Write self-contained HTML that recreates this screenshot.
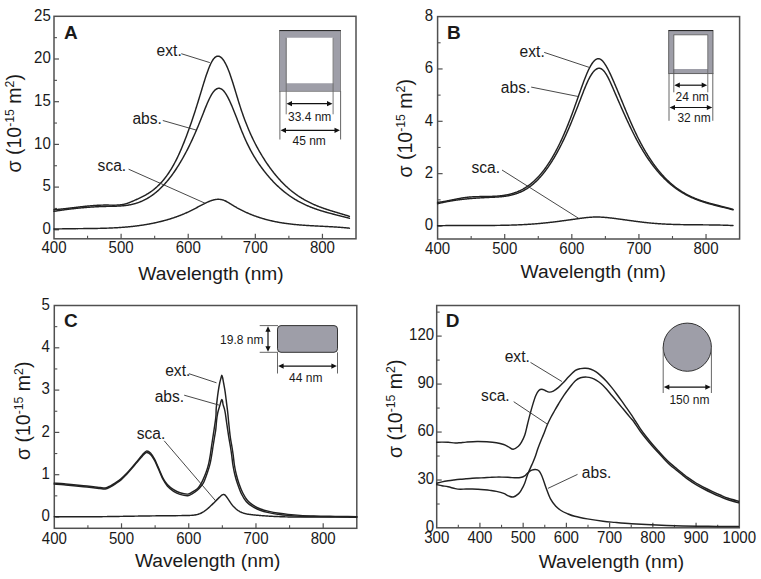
<!DOCTYPE html>
<html><head><meta charset="utf-8"><style>
html,body{margin:0;padding:0;background:#fff;}
svg{display:block;}
text{font-family:"Liberation Sans", sans-serif;fill:#1a1a1a;}
</style></head><body>
<svg width="761" height="579" viewBox="0 0 761 579">
<rect width="761" height="579" fill="#fff"/>
<rect x="54" y="16.3" width="302" height="222.5" fill="none" stroke="#505050" stroke-width="1.5"/>
<line x1="121.11" y1="238.8" x2="121.11" y2="233.8" stroke="#505050" stroke-width="1.2"/>
<line x1="188.22" y1="238.8" x2="188.22" y2="233.8" stroke="#505050" stroke-width="1.2"/>
<line x1="255.33" y1="238.8" x2="255.33" y2="233.8" stroke="#505050" stroke-width="1.2"/>
<line x1="322.44" y1="238.8" x2="322.44" y2="233.8" stroke="#505050" stroke-width="1.2"/>
<line x1="87.56" y1="238.8" x2="87.56" y2="235.8" stroke="#505050" stroke-width="1.1"/>
<line x1="154.67" y1="238.8" x2="154.67" y2="235.8" stroke="#505050" stroke-width="1.1"/>
<line x1="221.78" y1="238.8" x2="221.78" y2="235.8" stroke="#505050" stroke-width="1.1"/>
<line x1="288.89" y1="238.8" x2="288.89" y2="235.8" stroke="#505050" stroke-width="1.1"/>
<text transform="translate(54.00,253.3) scale(0.94,1)" text-anchor="middle" font-size="16">400</text>
<text transform="translate(121.11,253.3) scale(0.94,1)" text-anchor="middle" font-size="16">500</text>
<text transform="translate(188.22,253.3) scale(0.94,1)" text-anchor="middle" font-size="16">600</text>
<text transform="translate(255.33,253.3) scale(0.94,1)" text-anchor="middle" font-size="16">700</text>
<text transform="translate(322.44,253.3) scale(0.94,1)" text-anchor="middle" font-size="16">800</text>
<line x1="54" y1="229.80" x2="59" y2="229.80" stroke="#505050" stroke-width="1.2"/>
<line x1="54" y1="187.10" x2="59" y2="187.10" stroke="#505050" stroke-width="1.2"/>
<line x1="54" y1="144.40" x2="59" y2="144.40" stroke="#505050" stroke-width="1.2"/>
<line x1="54" y1="101.70" x2="59" y2="101.70" stroke="#505050" stroke-width="1.2"/>
<line x1="54" y1="59.00" x2="59" y2="59.00" stroke="#505050" stroke-width="1.2"/>
<line x1="54" y1="208.45" x2="57" y2="208.45" stroke="#505050" stroke-width="1.1"/>
<line x1="54" y1="165.75" x2="57" y2="165.75" stroke="#505050" stroke-width="1.1"/>
<line x1="54" y1="123.05" x2="57" y2="123.05" stroke="#505050" stroke-width="1.1"/>
<line x1="54" y1="80.35" x2="57" y2="80.35" stroke="#505050" stroke-width="1.1"/>
<line x1="54" y1="37.65" x2="57" y2="37.65" stroke="#505050" stroke-width="1.1"/>
<text transform="translate(50.80,234.10) scale(0.94,1)" text-anchor="end" font-size="16">0</text>
<text transform="translate(50.80,191.40) scale(0.94,1)" text-anchor="end" font-size="16">5</text>
<text transform="translate(50.80,148.70) scale(0.94,1)" text-anchor="end" font-size="16">10</text>
<text transform="translate(50.80,106.00) scale(0.94,1)" text-anchor="end" font-size="16">15</text>
<text transform="translate(50.80,63.30) scale(0.94,1)" text-anchor="end" font-size="16">20</text>
<text transform="translate(50.80,20.60) scale(0.94,1)" text-anchor="end" font-size="16">25</text>
<text x="138.3" y="280.4" font-size="19.2">Wavelength (nm)</text>
<text transform="translate(21.1,172.5) rotate(-90)" font-size="19.5">&#963; (10<tspan dy="-7" font-size="12.3">-15</tspan><tspan dy="7"> m</tspan><tspan dy="-7" font-size="12.3">2</tspan><tspan dy="7">)</tspan></text>
<text x="64" y="39.3" font-size="19" font-weight="bold">A</text>
<path d="M54.00 209.72 L54.50 209.68 L55.00 209.64 L55.50 209.60 L56.00 209.56 L56.50 209.52 L57.00 209.47 L57.50 209.43 L58.00 209.38 L58.50 209.34 L59.00 209.29 L59.50 209.24 L60.00 209.19 L60.50 209.14 L61.00 209.09 L61.50 209.04 L62.00 208.99 L62.50 208.93 L63.00 208.88 L63.50 208.83 L64.00 208.77 L64.50 208.72 L65.00 208.66 L65.50 208.61 L66.00 208.55 L66.50 208.49 L67.00 208.43 L67.50 208.38 L68.00 208.32 L68.50 208.26 L69.00 208.20 L69.50 208.14 L70.00 208.08 L70.50 208.02 L71.00 207.96 L71.50 207.90 L72.00 207.84 L72.50 207.78 L73.00 207.72 L73.50 207.66 L74.00 207.60 L74.50 207.54 L75.00 207.48 L75.50 207.42 L76.00 207.36 L76.50 207.30 L77.00 207.25 L77.50 207.19 L78.00 207.13 L78.50 207.07 L79.00 207.01 L79.50 206.95 L80.00 206.89 L80.50 206.84 L81.00 206.78 L81.50 206.72 L82.00 206.67 L82.50 206.61 L83.00 206.56 L83.50 206.50 L84.00 206.45 L84.50 206.39 L85.00 206.34 L85.50 206.29 L86.00 206.24 L86.50 206.19 L87.00 206.14 L87.50 206.09 L88.00 206.04 L88.50 205.99 L89.00 205.94 L89.50 205.90 L90.00 205.85 L90.50 205.81 L91.00 205.77 L91.50 205.72 L92.00 205.68 L92.50 205.64 L93.00 205.60 L93.50 205.57 L94.00 205.53 L94.50 205.49 L95.00 205.46 L95.50 205.43 L96.00 205.39 L96.50 205.36 L97.00 205.34 L97.50 205.31 L98.00 205.28 L98.50 205.26 L99.00 205.23 L99.50 205.21 L100.00 205.19 L100.50 205.17 L101.00 205.15 L101.50 205.14 L102.00 205.12 L102.50 205.11 L103.00 205.10 L103.50 205.09 L104.00 205.08 L104.50 205.08 L105.00 205.07 L105.50 205.07 L106.00 205.07 L106.50 205.07 L107.00 205.07 L107.50 205.08 L108.00 205.08 L108.50 205.09 L109.00 205.10 L109.50 205.11 L110.00 205.12 L110.50 205.13 L111.00 205.13 L111.50 205.14 L112.00 205.15 L112.50 205.15 L113.00 205.16 L113.50 205.16 L114.00 205.16 L114.50 205.16 L115.00 205.15 L115.50 205.14 L116.00 205.13 L116.50 205.11 L117.00 205.09 L117.50 205.07 L118.00 205.04 L118.50 205.01 L119.00 204.97 L119.50 204.92 L120.00 204.87 L120.50 204.82 L121.00 204.76 L121.50 204.69 L122.00 204.61 L122.50 204.53 L123.00 204.44 L123.50 204.34 L124.00 204.23 L124.50 204.12 L125.00 203.99 L125.50 203.86 L126.00 203.72 L126.50 203.57 L127.00 203.41 L127.50 203.24 L128.00 203.07 L128.50 202.89 L129.00 202.70 L129.50 202.51 L130.00 202.31 L130.50 202.11 L131.00 201.90 L131.50 201.69 L132.00 201.48 L132.50 201.26 L133.00 201.05 L133.50 200.83 L134.00 200.61 L134.50 200.39 L135.00 200.17 L135.50 199.95 L136.00 199.73 L136.50 199.50 L137.00 199.28 L137.50 199.05 L138.00 198.83 L138.50 198.60 L139.00 198.36 L139.50 198.13 L140.00 197.89 L140.50 197.65 L141.00 197.41 L141.50 197.16 L142.00 196.91 L142.50 196.66 L143.00 196.40 L143.50 196.14 L144.00 195.88 L144.50 195.61 L145.00 195.33 L145.50 195.05 L146.00 194.77 L146.50 194.48 L147.00 194.18 L147.50 193.88 L148.00 193.57 L148.50 193.26 L149.00 192.94 L149.50 192.61 L150.00 192.28 L150.50 191.94 L151.00 191.59 L151.50 191.24 L152.00 190.87 L152.50 190.50 L153.00 190.12 L153.50 189.74 L154.00 189.34 L154.50 188.94 L155.00 188.52 L155.50 188.10 L156.00 187.67 L156.50 187.23 L157.00 186.78 L157.50 186.32 L158.00 185.84 L158.50 185.36 L159.00 184.87 L159.50 184.37 L160.00 183.85 L160.50 183.33 L161.00 182.79 L161.50 182.25 L162.00 181.69 L162.50 181.11 L163.00 180.53 L163.50 179.93 L164.00 179.32 L164.50 178.70 L165.00 178.07 L165.50 177.42 L166.00 176.75 L166.50 176.08 L167.00 175.39 L167.50 174.68 L168.00 173.97 L168.50 173.23 L169.00 172.49 L169.50 171.72 L170.00 170.94 L170.50 170.15 L171.00 169.34 L171.50 168.52 L172.00 167.68 L172.50 166.82 L173.00 165.95 L173.50 165.06 L174.00 164.15 L174.50 163.23 L175.00 162.28 L175.50 161.33 L176.00 160.35 L176.50 159.35 L177.00 158.34 L177.50 157.31 L178.00 156.26 L178.50 155.20 L179.00 154.12 L179.50 153.02 L180.00 151.90 L180.50 150.76 L181.00 149.61 L181.50 148.45 L182.00 147.26 L182.50 146.07 L183.00 144.85 L183.50 143.62 L184.00 142.37 L184.50 141.11 L185.00 139.84 L185.50 138.55 L186.00 137.24 L186.50 135.92 L187.00 134.58 L187.50 133.23 L188.00 131.87 L188.50 130.49 L189.00 129.10 L189.50 127.70 L190.00 126.28 L190.50 124.85 L191.00 123.40 L191.50 121.95 L192.00 120.48 L192.50 119.00 L193.00 117.50 L193.50 116.00 L194.00 114.48 L194.50 112.95 L195.00 111.41 L195.50 109.86 L196.00 108.29 L196.50 106.72 L197.00 105.13 L197.50 103.54 L198.00 101.93 L198.50 100.31 L199.00 98.69 L199.50 97.05 L200.00 95.41 L200.50 93.75 L201.00 92.10 L201.50 90.44 L202.00 88.79 L202.50 87.15 L203.00 85.51 L203.50 83.89 L204.00 82.28 L204.50 80.69 L205.00 79.12 L205.50 77.58 L206.00 76.07 L206.50 74.59 L207.00 73.15 L207.50 71.74 L208.00 70.38 L208.50 69.06 L209.00 67.79 L209.50 66.57 L210.00 65.40 L210.50 64.29 L211.00 63.24 L211.50 62.26 L212.00 61.34 L212.50 60.50 L213.00 59.72 L213.50 59.03 L214.00 58.41 L214.50 57.87 L215.00 57.40 L215.50 57.01 L216.00 56.70 L216.50 56.45 L217.00 56.28 L217.50 56.18 L218.00 56.15 L218.50 56.19 L219.00 56.30 L219.50 56.48 L220.00 56.72 L220.50 57.03 L221.00 57.40 L221.50 57.84 L222.00 58.34 L222.50 58.91 L223.00 59.53 L223.50 60.22 L224.00 60.97 L224.50 61.77 L225.00 62.64 L225.50 63.56 L226.00 64.53 L226.50 65.57 L227.00 66.65 L227.50 67.79 L228.00 68.99 L228.50 70.23 L229.00 71.53 L229.50 72.87 L230.00 74.26 L230.50 75.68 L231.00 77.15 L231.50 78.65 L232.00 80.18 L232.50 81.73 L233.00 83.32 L233.50 84.92 L234.00 86.54 L234.50 88.17 L235.00 89.82 L235.50 91.47 L236.00 93.12 L236.50 94.78 L237.00 96.43 L237.50 98.08 L238.00 99.72 L238.50 101.34 L239.00 102.95 L239.50 104.54 L240.00 106.10 L240.50 107.65 L241.00 109.16 L241.50 110.66 L242.00 112.13 L242.50 113.57 L243.00 114.99 L243.50 116.40 L244.00 117.77 L244.50 119.13 L245.00 120.47 L245.50 121.78 L246.00 123.07 L246.50 124.35 L247.00 125.60 L247.50 126.83 L248.00 128.05 L248.50 129.24 L249.00 130.42 L249.50 131.58 L250.00 132.72 L250.50 133.84 L251.00 134.95 L251.50 136.04 L252.00 137.11 L252.50 138.17 L253.00 139.22 L253.50 140.24 L254.00 141.26 L254.50 142.25 L255.00 143.24 L255.50 144.21 L256.00 145.17 L256.50 146.11 L257.00 147.04 L257.50 147.96 L258.00 148.87 L258.50 149.76 L259.00 150.65 L259.50 151.52 L260.00 152.39 L260.50 153.24 L261.00 154.09 L261.50 154.92 L262.00 155.75 L262.50 156.56 L263.00 157.37 L263.50 158.17 L264.00 158.97 L264.50 159.75 L265.00 160.52 L265.50 161.29 L266.00 162.05 L266.50 162.80 L267.00 163.54 L267.50 164.27 L268.00 165.00 L268.50 165.71 L269.00 166.42 L269.50 167.12 L270.00 167.82 L270.50 168.50 L271.00 169.18 L271.50 169.85 L272.00 170.51 L272.50 171.16 L273.00 171.81 L273.50 172.45 L274.00 173.08 L274.50 173.71 L275.00 174.32 L275.50 174.93 L276.00 175.54 L276.50 176.13 L277.00 176.72 L277.50 177.30 L278.00 177.88 L278.50 178.44 L279.00 179.01 L279.50 179.56 L280.00 180.11 L280.50 180.65 L281.00 181.18 L281.50 181.71 L282.00 182.23 L282.50 182.74 L283.00 183.25 L283.50 183.75 L284.00 184.25 L284.50 184.73 L285.00 185.22 L285.50 185.69 L286.00 186.16 L286.50 186.63 L287.00 187.09 L287.50 187.54 L288.00 187.99 L288.50 188.43 L289.00 188.86 L289.50 189.29 L290.00 189.72 L290.50 190.13 L291.00 190.55 L291.50 190.95 L292.00 191.35 L292.50 191.75 L293.00 192.14 L293.50 192.53 L294.00 192.91 L294.50 193.29 L295.00 193.66 L295.50 194.02 L296.00 194.38 L296.50 194.74 L297.00 195.09 L297.50 195.43 L298.00 195.78 L298.50 196.11 L299.00 196.45 L299.50 196.77 L300.00 197.10 L300.50 197.42 L301.00 197.73 L301.50 198.04 L302.00 198.35 L302.50 198.65 L303.00 198.94 L303.50 199.24 L304.00 199.53 L304.50 199.81 L305.00 200.09 L305.50 200.37 L306.00 200.65 L306.50 200.92 L307.00 201.18 L307.50 201.44 L308.00 201.70 L308.50 201.96 L309.00 202.21 L309.50 202.46 L310.00 202.71 L310.50 202.95 L311.00 203.19 L311.50 203.42 L312.00 203.65 L312.50 203.88 L313.00 204.11 L313.50 204.33 L314.00 204.55 L314.50 204.77 L315.00 204.99 L315.50 205.20 L316.00 205.41 L316.50 205.62 L317.00 205.82 L317.50 206.02 L318.00 206.22 L318.50 206.42 L319.00 206.61 L319.50 206.81 L320.00 207.00 L320.50 207.18 L321.00 207.37 L321.50 207.55 L322.00 207.74 L322.50 207.92 L323.00 208.09 L323.50 208.27 L324.00 208.45 L324.50 208.62 L325.00 208.79 L325.50 208.96 L326.00 209.13 L326.50 209.29 L327.00 209.46 L327.50 209.62 L328.00 209.79 L328.50 209.95 L329.00 210.11 L329.50 210.27 L330.00 210.42 L330.50 210.58 L331.00 210.74 L331.50 210.89 L332.00 211.05 L332.50 211.20 L333.00 211.35 L333.50 211.50 L334.00 211.66 L334.50 211.81 L335.00 211.96 L335.50 212.11 L336.00 212.26 L336.50 212.40 L337.00 212.55 L337.50 212.70 L338.00 212.85 L338.50 213.00 L339.00 213.15 L339.50 213.30 L340.00 213.44 L340.50 213.59 L341.00 213.74 L341.50 213.89 L342.00 214.04 L342.50 214.19 L343.00 214.34 L343.50 214.49 L344.00 214.64 L344.50 214.79 L345.00 214.94 L345.50 215.09 L346.00 215.25 L346.50 215.40 L347.00 215.56 L347.50 215.71 L348.00 215.87 L348.50 216.03 L349.00 216.19 L349.40 216.32" fill="none" stroke="#222" stroke-width="1.45" stroke-linejoin="round" stroke-linecap="round"/>
<path d="M54.00 211.34 L54.50 211.26 L55.00 211.18 L55.50 211.10 L56.00 211.02 L56.50 210.94 L57.00 210.87 L57.50 210.79 L58.00 210.72 L58.50 210.64 L59.00 210.57 L59.50 210.49 L60.00 210.42 L60.50 210.35 L61.00 210.27 L61.50 210.20 L62.00 210.13 L62.50 210.06 L63.00 209.99 L63.50 209.92 L64.00 209.85 L64.50 209.78 L65.00 209.72 L65.50 209.65 L66.00 209.58 L66.50 209.52 L67.00 209.45 L67.50 209.39 L68.00 209.33 L68.50 209.26 L69.00 209.20 L69.50 209.14 L70.00 209.08 L70.50 209.02 L71.00 208.96 L71.50 208.90 L72.00 208.84 L72.50 208.78 L73.00 208.73 L73.50 208.67 L74.00 208.61 L74.50 208.56 L75.00 208.50 L75.50 208.45 L76.00 208.40 L76.50 208.34 L77.00 208.29 L77.50 208.24 L78.00 208.19 L78.50 208.14 L79.00 208.09 L79.50 208.04 L80.00 207.99 L80.50 207.94 L81.00 207.90 L81.50 207.85 L82.00 207.81 L82.50 207.76 L83.00 207.72 L83.50 207.67 L84.00 207.63 L84.50 207.59 L85.00 207.55 L85.50 207.51 L86.00 207.46 L86.50 207.43 L87.00 207.39 L87.50 207.35 L88.00 207.31 L88.50 207.27 L89.00 207.24 L89.50 207.20 L90.00 207.17 L90.50 207.13 L91.00 207.10 L91.50 207.07 L92.00 207.03 L92.50 207.00 L93.00 206.97 L93.50 206.94 L94.00 206.91 L94.50 206.88 L95.00 206.85 L95.50 206.83 L96.00 206.80 L96.50 206.77 L97.00 206.75 L97.50 206.72 L98.00 206.70 L98.50 206.68 L99.00 206.65 L99.50 206.63 L100.00 206.61 L100.50 206.59 L101.00 206.57 L101.50 206.55 L102.00 206.53 L102.50 206.51 L103.00 206.50 L103.50 206.48 L104.00 206.47 L104.50 206.45 L105.00 206.44 L105.50 206.42 L106.00 206.41 L106.50 206.40 L107.00 206.39 L107.50 206.38 L108.00 206.37 L108.50 206.36 L109.00 206.35 L109.50 206.34 L110.00 206.33 L110.50 206.32 L111.00 206.31 L111.50 206.30 L112.00 206.29 L112.50 206.28 L113.00 206.27 L113.50 206.26 L114.00 206.24 L114.50 206.23 L115.00 206.22 L115.50 206.20 L116.00 206.19 L116.50 206.17 L117.00 206.15 L117.50 206.13 L118.00 206.11 L118.50 206.08 L119.00 206.06 L119.50 206.03 L120.00 206.00 L120.50 205.97 L121.00 205.93 L121.50 205.90 L122.00 205.86 L122.50 205.82 L123.00 205.77 L123.50 205.73 L124.00 205.68 L124.50 205.62 L125.00 205.57 L125.50 205.51 L126.00 205.45 L126.50 205.38 L127.00 205.31 L127.50 205.24 L128.00 205.16 L128.50 205.08 L129.00 205.00 L129.50 204.91 L130.00 204.81 L130.50 204.72 L131.00 204.62 L131.50 204.51 L132.00 204.40 L132.50 204.29 L133.00 204.17 L133.50 204.04 L134.00 203.91 L134.50 203.78 L135.00 203.64 L135.50 203.49 L136.00 203.34 L136.50 203.18 L137.00 203.02 L137.50 202.86 L138.00 202.68 L138.50 202.51 L139.00 202.32 L139.50 202.13 L140.00 201.94 L140.50 201.74 L141.00 201.53 L141.50 201.32 L142.00 201.10 L142.50 200.88 L143.00 200.65 L143.50 200.41 L144.00 200.17 L144.50 199.92 L145.00 199.66 L145.50 199.40 L146.00 199.13 L146.50 198.86 L147.00 198.58 L147.50 198.29 L148.00 198.00 L148.50 197.70 L149.00 197.39 L149.50 197.07 L150.00 196.75 L150.50 196.42 L151.00 196.09 L151.50 195.75 L152.00 195.40 L152.50 195.04 L153.00 194.68 L153.50 194.31 L154.00 193.93 L154.50 193.55 L155.00 193.15 L155.50 192.75 L156.00 192.35 L156.50 191.93 L157.00 191.51 L157.50 191.08 L158.00 190.64 L158.50 190.19 L159.00 189.74 L159.50 189.28 L160.00 188.81 L160.50 188.33 L161.00 187.84 L161.50 187.35 L162.00 186.85 L162.50 186.34 L163.00 185.82 L163.50 185.29 L164.00 184.76 L164.50 184.21 L165.00 183.66 L165.50 183.10 L166.00 182.53 L166.50 181.95 L167.00 181.37 L167.50 180.77 L168.00 180.17 L168.50 179.55 L169.00 178.93 L169.50 178.30 L170.00 177.66 L170.50 177.01 L171.00 176.35 L171.50 175.69 L172.00 175.01 L172.50 174.32 L173.00 173.63 L173.50 172.92 L174.00 172.21 L174.50 171.49 L175.00 170.75 L175.50 170.01 L176.00 169.26 L176.50 168.50 L177.00 167.73 L177.50 166.95 L178.00 166.16 L178.50 165.36 L179.00 164.56 L179.50 163.74 L180.00 162.91 L180.50 162.07 L181.00 161.23 L181.50 160.37 L182.00 159.50 L182.50 158.63 L183.00 157.74 L183.50 156.85 L184.00 155.94 L184.50 155.02 L185.00 154.10 L185.50 153.16 L186.00 152.22 L186.50 151.26 L187.00 150.30 L187.50 149.32 L188.00 148.33 L188.50 147.34 L189.00 146.33 L189.50 145.31 L190.00 144.29 L190.50 143.25 L191.00 142.20 L191.50 141.14 L192.00 140.07 L192.50 139.00 L193.00 137.91 L193.50 136.81 L194.00 135.70 L194.50 134.57 L195.00 133.44 L195.50 132.30 L196.00 131.15 L196.50 129.98 L197.00 128.81 L197.50 127.63 L198.00 126.43 L198.50 125.22 L199.00 124.01 L199.50 122.78 L200.00 121.54 L200.50 120.29 L201.00 119.03 L201.50 117.76 L202.00 116.48 L202.50 115.20 L203.00 113.92 L203.50 112.64 L204.00 111.37 L204.50 110.11 L205.00 108.85 L205.50 107.61 L206.00 106.38 L206.50 105.18 L207.00 103.99 L207.50 102.83 L208.00 101.69 L208.50 100.59 L209.00 99.51 L209.50 98.47 L210.00 97.47 L210.50 96.51 L211.00 95.59 L211.50 94.72 L212.00 93.89 L212.50 93.12 L213.00 92.40 L213.50 91.74 L214.00 91.14 L214.50 90.59 L215.00 90.10 L215.50 89.67 L216.00 89.30 L216.50 88.98 L217.00 88.73 L217.50 88.53 L218.00 88.39 L218.50 88.31 L219.00 88.29 L219.50 88.33 L220.00 88.42 L220.50 88.58 L221.00 88.79 L221.50 89.07 L222.00 89.40 L222.50 89.79 L223.00 90.24 L223.50 90.75 L224.00 91.32 L224.50 91.94 L225.00 92.61 L225.50 93.33 L226.00 94.10 L226.50 94.92 L227.00 95.78 L227.50 96.68 L228.00 97.62 L228.50 98.60 L229.00 99.61 L229.50 100.65 L230.00 101.73 L230.50 102.83 L231.00 103.97 L231.50 105.12 L232.00 106.30 L232.50 107.50 L233.00 108.71 L233.50 109.94 L234.00 111.19 L234.50 112.45 L235.00 113.72 L235.50 114.99 L236.00 116.28 L236.50 117.57 L237.00 118.86 L237.50 120.16 L238.00 121.46 L238.50 122.75 L239.00 124.05 L239.50 125.33 L240.00 126.62 L240.50 127.89 L241.00 129.16 L241.50 130.41 L242.00 131.65 L242.50 132.88 L243.00 134.09 L243.50 135.28 L244.00 136.46 L244.50 137.61 L245.00 138.75 L245.50 139.86 L246.00 140.96 L246.50 142.04 L247.00 143.10 L247.50 144.14 L248.00 145.17 L248.50 146.18 L249.00 147.17 L249.50 148.15 L250.00 149.11 L250.50 150.05 L251.00 150.98 L251.50 151.90 L252.00 152.80 L252.50 153.68 L253.00 154.55 L253.50 155.41 L254.00 156.26 L254.50 157.09 L255.00 157.91 L255.50 158.71 L256.00 159.51 L256.50 160.29 L257.00 161.06 L257.50 161.82 L258.00 162.57 L258.50 163.31 L259.00 164.04 L259.50 164.76 L260.00 165.47 L260.50 166.18 L261.00 166.87 L261.50 167.55 L262.00 168.23 L262.50 168.90 L263.00 169.56 L263.50 170.22 L264.00 170.86 L264.50 171.50 L265.00 172.14 L265.50 172.76 L266.00 173.38 L266.50 174.00 L267.00 174.60 L267.50 175.20 L268.00 175.80 L268.50 176.38 L269.00 176.97 L269.50 177.54 L270.00 178.11 L270.50 178.67 L271.00 179.22 L271.50 179.77 L272.00 180.31 L272.50 180.85 L273.00 181.38 L273.50 181.90 L274.00 182.42 L274.50 182.93 L275.00 183.44 L275.50 183.94 L276.00 184.43 L276.50 184.92 L277.00 185.40 L277.50 185.88 L278.00 186.35 L278.50 186.82 L279.00 187.28 L279.50 187.73 L280.00 188.18 L280.50 188.62 L281.00 189.06 L281.50 189.49 L282.00 189.92 L282.50 190.34 L283.00 190.76 L283.50 191.17 L284.00 191.58 L284.50 191.98 L285.00 192.38 L285.50 192.77 L286.00 193.15 L286.50 193.54 L287.00 193.91 L287.50 194.28 L288.00 194.65 L288.50 195.01 L289.00 195.37 L289.50 195.73 L290.00 196.07 L290.50 196.42 L291.00 196.76 L291.50 197.09 L292.00 197.42 L292.50 197.75 L293.00 198.07 L293.50 198.39 L294.00 198.71 L294.50 199.02 L295.00 199.32 L295.50 199.62 L296.00 199.92 L296.50 200.21 L297.00 200.50 L297.50 200.79 L298.00 201.07 L298.50 201.35 L299.00 201.62 L299.50 201.89 L300.00 202.16 L300.50 202.42 L301.00 202.68 L301.50 202.94 L302.00 203.19 L302.50 203.44 L303.00 203.69 L303.50 203.93 L304.00 204.17 L304.50 204.41 L305.00 204.64 L305.50 204.87 L306.00 205.10 L306.50 205.32 L307.00 205.54 L307.50 205.76 L308.00 205.98 L308.50 206.19 L309.00 206.40 L309.50 206.61 L310.00 206.81 L310.50 207.01 L311.00 207.21 L311.50 207.41 L312.00 207.60 L312.50 207.79 L313.00 207.98 L313.50 208.17 L314.00 208.35 L314.50 208.53 L315.00 208.71 L315.50 208.89 L316.00 209.06 L316.50 209.24 L317.00 209.41 L317.50 209.58 L318.00 209.74 L318.50 209.91 L319.00 210.07 L319.50 210.23 L320.00 210.39 L320.50 210.55 L321.00 210.71 L321.50 210.86 L322.00 211.01 L322.50 211.17 L323.00 211.31 L323.50 211.46 L324.00 211.61 L324.50 211.76 L325.00 211.90 L325.50 212.04 L326.00 212.18 L326.50 212.32 L327.00 212.46 L327.50 212.60 L328.00 212.74 L328.50 212.88 L329.00 213.01 L329.50 213.15 L330.00 213.28 L330.50 213.41 L331.00 213.54 L331.50 213.67 L332.00 213.80 L332.50 213.93 L333.00 214.06 L333.50 214.19 L334.00 214.32 L334.50 214.45 L335.00 214.58 L335.50 214.70 L336.00 214.83 L336.50 214.96 L337.00 215.08 L337.50 215.21 L338.00 215.33 L338.50 215.46 L339.00 215.59 L339.50 215.71 L340.00 215.84 L340.50 215.96 L341.00 216.09 L341.50 216.22 L342.00 216.34 L342.50 216.47 L343.00 216.60 L343.50 216.73 L344.00 216.85 L344.50 216.98 L345.00 217.11 L345.50 217.24 L346.00 217.37 L346.50 217.50 L347.00 217.63 L347.50 217.77 L348.00 217.90 L348.50 218.03 L349.00 218.17 L349.40 218.28" fill="none" stroke="#222" stroke-width="1.45" stroke-linejoin="round" stroke-linecap="round"/>
<path d="M54.00 229.06 L54.50 229.04 L55.00 229.02 L55.50 229.01 L56.00 228.99 L56.50 228.98 L57.00 228.97 L57.50 228.95 L58.00 228.94 L58.50 228.93 L59.00 228.91 L59.50 228.90 L60.00 228.89 L60.50 228.88 L61.00 228.87 L61.50 228.86 L62.00 228.85 L62.50 228.84 L63.00 228.83 L63.50 228.82 L64.00 228.81 L64.50 228.80 L65.00 228.79 L65.50 228.78 L66.00 228.78 L66.50 228.77 L67.00 228.76 L67.50 228.75 L68.00 228.75 L68.50 228.74 L69.00 228.73 L69.50 228.73 L70.00 228.72 L70.50 228.71 L71.00 228.71 L71.50 228.70 L72.00 228.70 L72.50 228.69 L73.00 228.69 L73.50 228.68 L74.00 228.68 L74.50 228.67 L75.00 228.67 L75.50 228.66 L76.00 228.66 L76.50 228.65 L77.00 228.65 L77.50 228.65 L78.00 228.64 L78.50 228.64 L79.00 228.63 L79.50 228.63 L80.00 228.62 L80.50 228.62 L81.00 228.62 L81.50 228.61 L82.00 228.61 L82.50 228.60 L83.00 228.60 L83.50 228.59 L84.00 228.59 L84.50 228.58 L85.00 228.58 L85.50 228.58 L86.00 228.57 L86.50 228.57 L87.00 228.56 L87.50 228.55 L88.00 228.55 L88.50 228.54 L89.00 228.54 L89.50 228.53 L90.00 228.53 L90.50 228.52 L91.00 228.51 L91.50 228.51 L92.00 228.50 L92.50 228.49 L93.00 228.49 L93.50 228.48 L94.00 228.47 L94.50 228.46 L95.00 228.45 L95.50 228.45 L96.00 228.44 L96.50 228.43 L97.00 228.42 L97.50 228.41 L98.00 228.40 L98.50 228.39 L99.00 228.38 L99.50 228.37 L100.00 228.36 L100.50 228.34 L101.00 228.33 L101.50 228.32 L102.00 228.31 L102.50 228.29 L103.00 228.28 L103.50 228.26 L104.00 228.25 L104.50 228.24 L105.00 228.22 L105.50 228.20 L106.00 228.19 L106.50 228.17 L107.00 228.15 L107.50 228.13 L108.00 228.12 L108.50 228.10 L109.00 228.08 L109.50 228.06 L110.00 228.04 L110.50 228.02 L111.00 227.99 L111.50 227.97 L112.00 227.95 L112.50 227.93 L113.00 227.90 L113.50 227.88 L114.00 227.85 L114.50 227.83 L115.00 227.80 L115.50 227.77 L116.00 227.75 L116.50 227.72 L117.00 227.69 L117.50 227.66 L118.00 227.63 L118.50 227.60 L119.00 227.57 L119.50 227.53 L120.00 227.50 L120.50 227.47 L121.00 227.43 L121.50 227.40 L122.00 227.36 L122.50 227.32 L123.00 227.28 L123.50 227.25 L124.00 227.21 L124.50 227.17 L125.00 227.13 L125.50 227.08 L126.00 227.04 L126.50 227.00 L127.00 226.95 L127.50 226.91 L128.00 226.86 L128.50 226.81 L129.00 226.77 L129.50 226.72 L130.00 226.67 L130.50 226.62 L131.00 226.57 L131.50 226.51 L132.00 226.46 L132.50 226.41 L133.00 226.35 L133.50 226.29 L134.00 226.24 L134.50 226.18 L135.00 226.12 L135.50 226.06 L136.00 226.00 L136.50 225.94 L137.00 225.87 L137.50 225.81 L138.00 225.74 L138.50 225.68 L139.00 225.61 L139.50 225.54 L140.00 225.47 L140.50 225.40 L141.00 225.33 L141.50 225.25 L142.00 225.18 L142.50 225.11 L143.00 225.03 L143.50 224.95 L144.00 224.87 L144.50 224.79 L145.00 224.71 L145.50 224.63 L146.00 224.55 L146.50 224.46 L147.00 224.37 L147.50 224.29 L148.00 224.20 L148.50 224.11 L149.00 224.02 L149.50 223.93 L150.00 223.83 L150.50 223.74 L151.00 223.64 L151.50 223.54 L152.00 223.45 L152.50 223.35 L153.00 223.25 L153.50 223.14 L154.00 223.04 L154.50 222.93 L155.00 222.83 L155.50 222.72 L156.00 222.61 L156.50 222.50 L157.00 222.39 L157.50 222.27 L158.00 222.16 L158.50 222.04 L159.00 221.92 L159.50 221.80 L160.00 221.68 L160.50 221.56 L161.00 221.44 L161.50 221.31 L162.00 221.18 L162.50 221.06 L163.00 220.93 L163.50 220.80 L164.00 220.66 L164.50 220.53 L165.00 220.39 L165.50 220.25 L166.00 220.12 L166.50 219.97 L167.00 219.83 L167.50 219.69 L168.00 219.54 L168.50 219.39 L169.00 219.24 L169.50 219.09 L170.00 218.94 L170.50 218.79 L171.00 218.63 L171.50 218.47 L172.00 218.31 L172.50 218.15 L173.00 217.98 L173.50 217.82 L174.00 217.65 L174.50 217.48 L175.00 217.31 L175.50 217.13 L176.00 216.96 L176.50 216.78 L177.00 216.60 L177.50 216.41 L178.00 216.23 L178.50 216.04 L179.00 215.85 L179.50 215.66 L180.00 215.47 L180.50 215.27 L181.00 215.07 L181.50 214.87 L182.00 214.67 L182.50 214.47 L183.00 214.26 L183.50 214.05 L184.00 213.84 L184.50 213.62 L185.00 213.41 L185.50 213.19 L186.00 212.97 L186.50 212.74 L187.00 212.52 L187.50 212.29 L188.00 212.05 L188.50 211.82 L189.00 211.58 L189.50 211.34 L190.00 211.10 L190.50 210.86 L191.00 210.61 L191.50 210.36 L192.00 210.11 L192.50 209.85 L193.00 209.60 L193.50 209.34 L194.00 209.08 L194.50 208.82 L195.00 208.56 L195.50 208.30 L196.00 208.04 L196.50 207.77 L197.00 207.51 L197.50 207.24 L198.00 206.98 L198.50 206.72 L199.00 206.45 L199.50 206.19 L200.00 205.92 L200.50 205.66 L201.00 205.40 L201.50 205.14 L202.00 204.88 L202.50 204.62 L203.00 204.37 L203.50 204.11 L204.00 203.86 L204.50 203.61 L205.00 203.36 L205.50 203.12 L206.00 202.87 L206.50 202.63 L207.00 202.40 L207.50 202.16 L208.00 201.94 L208.50 201.71 L209.00 201.50 L209.50 201.29 L210.00 201.09 L210.50 200.90 L211.00 200.71 L211.50 200.54 L212.00 200.38 L212.50 200.22 L213.00 200.08 L213.50 199.95 L214.00 199.82 L214.50 199.72 L215.00 199.62 L215.50 199.53 L216.00 199.46 L216.50 199.40 L217.00 199.36 L217.50 199.33 L218.00 199.31 L218.50 199.31 L219.00 199.32 L219.50 199.35 L220.00 199.39 L220.50 199.46 L221.00 199.53 L221.50 199.63 L222.00 199.74 L222.50 199.86 L223.00 200.01 L223.50 200.18 L224.00 200.36 L224.50 200.56 L225.00 200.78 L225.50 201.01 L226.00 201.26 L226.50 201.51 L227.00 201.78 L227.50 202.06 L228.00 202.35 L228.50 202.65 L229.00 202.95 L229.50 203.26 L230.00 203.57 L230.50 203.88 L231.00 204.19 L231.50 204.51 L232.00 204.82 L232.50 205.13 L233.00 205.43 L233.50 205.74 L234.00 206.03 L234.50 206.33 L235.00 206.62 L235.50 206.91 L236.00 207.20 L236.50 207.48 L237.00 207.77 L237.50 208.04 L238.00 208.32 L238.50 208.59 L239.00 208.86 L239.50 209.12 L240.00 209.39 L240.50 209.65 L241.00 209.91 L241.50 210.16 L242.00 210.41 L242.50 210.66 L243.00 210.91 L243.50 211.15 L244.00 211.39 L244.50 211.63 L245.00 211.86 L245.50 212.09 L246.00 212.32 L246.50 212.55 L247.00 212.77 L247.50 212.99 L248.00 213.21 L248.50 213.43 L249.00 213.64 L249.50 213.85 L250.00 214.06 L250.50 214.27 L251.00 214.47 L251.50 214.67 L252.00 214.87 L252.50 215.06 L253.00 215.26 L253.50 215.45 L254.00 215.64 L254.50 215.82 L255.00 216.01 L255.50 216.19 L256.00 216.37 L256.50 216.54 L257.00 216.72 L257.50 216.89 L258.00 217.06 L258.50 217.22 L259.00 217.39 L259.50 217.55 L260.00 217.71 L260.50 217.87 L261.00 218.03 L261.50 218.18 L262.00 218.33 L262.50 218.48 L263.00 218.63 L263.50 218.78 L264.00 218.92 L264.50 219.06 L265.00 219.20 L265.50 219.34 L266.00 219.47 L266.50 219.61 L267.00 219.74 L267.50 219.87 L268.00 219.99 L268.50 220.12 L269.00 220.24 L269.50 220.37 L270.00 220.49 L270.50 220.60 L271.00 220.72 L271.50 220.83 L272.00 220.95 L272.50 221.06 L273.00 221.17 L273.50 221.27 L274.00 221.38 L274.50 221.48 L275.00 221.59 L275.50 221.69 L276.00 221.79 L276.50 221.88 L277.00 221.98 L277.50 222.07 L278.00 222.17 L278.50 222.26 L279.00 222.35 L279.50 222.43 L280.00 222.52 L280.50 222.61 L281.00 222.69 L281.50 222.77 L282.00 222.85 L282.50 222.93 L283.00 223.01 L283.50 223.09 L284.00 223.16 L284.50 223.24 L285.00 223.31 L285.50 223.38 L286.00 223.45 L286.50 223.52 L287.00 223.58 L287.50 223.65 L288.00 223.72 L288.50 223.78 L289.00 223.84 L289.50 223.90 L290.00 223.96 L290.50 224.02 L291.00 224.08 L291.50 224.14 L292.00 224.19 L292.50 224.25 L293.00 224.30 L293.50 224.36 L294.00 224.41 L294.50 224.46 L295.00 224.51 L295.50 224.56 L296.00 224.61 L296.50 224.65 L297.00 224.70 L297.50 224.74 L298.00 224.79 L298.50 224.83 L299.00 224.88 L299.50 224.92 L300.00 224.96 L300.50 225.00 L301.00 225.04 L301.50 225.08 L302.00 225.12 L302.50 225.15 L303.00 225.19 L303.50 225.23 L304.00 225.26 L304.50 225.30 L305.00 225.33 L305.50 225.37 L306.00 225.40 L306.50 225.43 L307.00 225.46 L307.50 225.50 L308.00 225.53 L308.50 225.56 L309.00 225.59 L309.50 225.62 L310.00 225.65 L310.50 225.68 L311.00 225.71 L311.50 225.73 L312.00 225.76 L312.50 225.79 L313.00 225.82 L313.50 225.84 L314.00 225.87 L314.50 225.90 L315.00 225.92 L315.50 225.95 L316.00 225.98 L316.50 226.00 L317.00 226.03 L317.50 226.05 L318.00 226.08 L318.50 226.10 L319.00 226.13 L319.50 226.15 L320.00 226.18 L320.50 226.20 L321.00 226.23 L321.50 226.25 L322.00 226.28 L322.50 226.30 L323.00 226.33 L323.50 226.35 L324.00 226.38 L324.50 226.40 L325.00 226.43 L325.50 226.45 L326.00 226.48 L326.50 226.50 L327.00 226.53 L327.50 226.55 L328.00 226.58 L328.50 226.61 L329.00 226.63 L329.50 226.66 L330.00 226.69 L330.50 226.72 L331.00 226.74 L331.50 226.77 L332.00 226.80 L332.50 226.83 L333.00 226.86 L333.50 226.89 L334.00 226.92 L334.50 226.95 L335.00 226.98 L335.50 227.02 L336.00 227.05 L336.50 227.08 L337.00 227.11 L337.50 227.15 L338.00 227.18 L338.50 227.22 L339.00 227.25 L339.50 227.29 L340.00 227.33 L340.50 227.37 L341.00 227.40 L341.50 227.44 L342.00 227.48 L342.50 227.52 L343.00 227.57 L343.50 227.61 L344.00 227.65 L344.50 227.69 L345.00 227.74 L345.50 227.78 L346.00 227.83 L346.50 227.88 L347.00 227.93 L347.50 227.98 L348.00 228.03 L348.50 228.08 L349.00 228.13 L349.40 228.17" fill="none" stroke="#222" stroke-width="1.45" stroke-linejoin="round" stroke-linecap="round"/>
<text x="156.6" y="56.300000000000004" font-size="15.6">ext.</text>
<line x1="181.3" y1="53.7" x2="209.8" y2="62.6" stroke="#333" stroke-width="0.9"/>
<text x="132.4" y="123.6" font-size="15.6">abs.</text>
<line x1="162.8" y1="120.5" x2="196" y2="130" stroke="#333" stroke-width="0.9"/>
<text x="97.6" y="171.4" font-size="15.6">sca.</text>
<line x1="128.6" y1="169.2" x2="205.9" y2="203.6" stroke="#333" stroke-width="0.9"/>
<path d="M279.5 30.5 H340.8 V91.3 H279.5 Z M286.5 37.8 V83.2 H333.3 V37.8 Z" fill="#9e9ea8" fill-rule="evenodd"/>
<rect x="279.5" y="30.6" width="61.1" height="60.7" fill="none" stroke="#777" stroke-width="0.8"/>
<line x1="279.5" y1="30.6" x2="340.8" y2="30.6" stroke="#222" stroke-width="1"/>
<line x1="286.2" y1="37.8" x2="286.2" y2="114.3" stroke="#6a6a6a" stroke-width="0.9"/>
<line x1="333.1" y1="37.8" x2="333.1" y2="114.3" stroke="#6a6a6a" stroke-width="0.9"/>
<line x1="279.9" y1="91" x2="279.9" y2="139.5" stroke="#666" stroke-width="1.0"/>
<line x1="340.6" y1="91" x2="340.6" y2="139.5" stroke="#666" stroke-width="1.0"/>
<line x1="291.0" y1="103.7" x2="328.0" y2="103.7" stroke="#111" stroke-width="1.2"/>
<path d="M286.5 103.7 L292.0 101.10000000000001 L292.0 106.3 Z" fill="#111"/>
<path d="M332.5 103.7 L327.0 101.10000000000001 L327.0 106.3 Z" fill="#111"/>
<line x1="285.0" y1="130.3" x2="335.5" y2="130.3" stroke="#111" stroke-width="1.2"/>
<path d="M280.5 130.3 L286.0 127.70000000000002 L286.0 132.9 Z" fill="#111"/>
<path d="M340 130.3 L334.5 127.70000000000002 L334.5 132.9 Z" fill="#111"/>
<text x="288" y="120.7" font-size="12">33.4 nm</text>
<text x="292.5" y="144.5" font-size="12">45 nm</text>
<rect x="437.6" y="16.6" width="302.0" height="222.4" fill="none" stroke="#505050" stroke-width="1.5"/>
<line x1="504.71" y1="239" x2="504.71" y2="234" stroke="#505050" stroke-width="1.2"/>
<line x1="571.82" y1="239" x2="571.82" y2="234" stroke="#505050" stroke-width="1.2"/>
<line x1="638.93" y1="239" x2="638.93" y2="234" stroke="#505050" stroke-width="1.2"/>
<line x1="706.04" y1="239" x2="706.04" y2="234" stroke="#505050" stroke-width="1.2"/>
<line x1="471.16" y1="239" x2="471.16" y2="236" stroke="#505050" stroke-width="1.1"/>
<line x1="538.27" y1="239" x2="538.27" y2="236" stroke="#505050" stroke-width="1.1"/>
<line x1="605.38" y1="239" x2="605.38" y2="236" stroke="#505050" stroke-width="1.1"/>
<line x1="672.49" y1="239" x2="672.49" y2="236" stroke="#505050" stroke-width="1.1"/>
<text transform="translate(437.60,253.8) scale(0.94,1)" text-anchor="middle" font-size="16">400</text>
<text transform="translate(504.71,253.8) scale(0.94,1)" text-anchor="middle" font-size="16">500</text>
<text transform="translate(571.82,253.8) scale(0.94,1)" text-anchor="middle" font-size="16">600</text>
<text transform="translate(638.93,253.8) scale(0.94,1)" text-anchor="middle" font-size="16">700</text>
<text transform="translate(706.04,253.8) scale(0.94,1)" text-anchor="middle" font-size="16">800</text>
<line x1="437.6" y1="226.00" x2="442.6" y2="226.00" stroke="#505050" stroke-width="1.2"/>
<line x1="437.6" y1="173.65" x2="442.6" y2="173.65" stroke="#505050" stroke-width="1.2"/>
<line x1="437.6" y1="121.30" x2="442.6" y2="121.30" stroke="#505050" stroke-width="1.2"/>
<line x1="437.6" y1="68.95" x2="442.6" y2="68.95" stroke="#505050" stroke-width="1.2"/>
<line x1="437.6" y1="199.82" x2="440.6" y2="199.82" stroke="#505050" stroke-width="1.1"/>
<line x1="437.6" y1="147.47" x2="440.6" y2="147.47" stroke="#505050" stroke-width="1.1"/>
<line x1="437.6" y1="95.12" x2="440.6" y2="95.12" stroke="#505050" stroke-width="1.1"/>
<line x1="437.6" y1="42.78" x2="440.6" y2="42.78" stroke="#505050" stroke-width="1.1"/>
<text transform="translate(433.20,230.30) scale(0.94,1)" text-anchor="end" font-size="16">0</text>
<text transform="translate(433.20,177.95) scale(0.94,1)" text-anchor="end" font-size="16">2</text>
<text transform="translate(433.20,125.60) scale(0.94,1)" text-anchor="end" font-size="16">4</text>
<text transform="translate(433.20,73.25) scale(0.94,1)" text-anchor="end" font-size="16">6</text>
<text transform="translate(433.20,20.90) scale(0.94,1)" text-anchor="end" font-size="16">8</text>
<text x="520.6" y="277.5" font-size="19.2">Wavelength (nm)</text>
<text transform="translate(411.6,177.5) rotate(-90)" font-size="19.5">&#963; (10<tspan dy="-7" font-size="12.3">-15</tspan><tspan dy="7"> m</tspan><tspan dy="-7" font-size="12.3">2</tspan><tspan dy="7">)</tspan></text>
<text x="447" y="39" font-size="19" font-weight="bold">B</text>
<path d="M437.60 202.33 L438.10 202.28 L438.60 202.23 L439.10 202.18 L439.60 202.12 L440.10 202.05 L440.60 201.99 L441.10 201.92 L441.60 201.85 L442.10 201.78 L442.60 201.70 L443.10 201.62 L443.60 201.54 L444.10 201.46 L444.60 201.37 L445.10 201.28 L445.60 201.19 L446.10 201.10 L446.60 201.01 L447.10 200.92 L447.60 200.82 L448.10 200.73 L448.60 200.63 L449.10 200.53 L449.60 200.43 L450.10 200.33 L450.60 200.23 L451.10 200.13 L451.60 200.02 L452.10 199.92 L452.60 199.82 L453.10 199.72 L453.60 199.61 L454.10 199.51 L454.60 199.41 L455.10 199.31 L455.60 199.20 L456.10 199.10 L456.60 199.00 L457.10 198.90 L457.60 198.81 L458.10 198.71 L458.60 198.61 L459.10 198.52 L459.60 198.43 L460.10 198.34 L460.60 198.25 L461.10 198.16 L461.60 198.07 L462.10 197.99 L462.60 197.91 L463.10 197.83 L463.60 197.75 L464.10 197.68 L464.60 197.60 L465.10 197.54 L465.60 197.47 L466.10 197.41 L466.60 197.35 L467.10 197.29 L467.60 197.24 L468.10 197.18 L468.60 197.14 L469.10 197.09 L469.60 197.05 L470.10 197.01 L470.60 196.97 L471.10 196.93 L471.60 196.90 L472.10 196.87 L472.60 196.84 L473.10 196.81 L473.60 196.78 L474.10 196.76 L474.60 196.74 L475.10 196.72 L475.60 196.70 L476.10 196.68 L476.60 196.66 L477.10 196.65 L477.60 196.63 L478.10 196.62 L478.60 196.61 L479.10 196.60 L479.60 196.59 L480.10 196.58 L480.60 196.57 L481.10 196.56 L481.60 196.55 L482.10 196.55 L482.60 196.54 L483.10 196.53 L483.60 196.53 L484.10 196.52 L484.60 196.51 L485.10 196.51 L485.60 196.50 L486.10 196.49 L486.60 196.49 L487.10 196.48 L487.60 196.47 L488.10 196.46 L488.60 196.45 L489.10 196.44 L489.60 196.43 L490.10 196.42 L490.60 196.40 L491.10 196.39 L491.60 196.37 L492.10 196.36 L492.60 196.34 L493.10 196.32 L493.60 196.30 L494.10 196.27 L494.60 196.25 L495.10 196.22 L495.60 196.19 L496.10 196.16 L496.60 196.13 L497.10 196.10 L497.60 196.06 L498.10 196.02 L498.60 195.98 L499.10 195.93 L499.60 195.88 L500.10 195.83 L500.60 195.78 L501.10 195.73 L501.60 195.67 L502.10 195.61 L502.60 195.54 L503.10 195.47 L503.60 195.40 L504.10 195.33 L504.60 195.25 L505.10 195.17 L505.60 195.08 L506.10 194.99 L506.60 194.90 L507.10 194.80 L507.60 194.70 L508.10 194.60 L508.60 194.49 L509.10 194.37 L509.60 194.25 L510.10 194.13 L510.60 194.00 L511.10 193.87 L511.60 193.73 L512.10 193.59 L512.60 193.44 L513.10 193.29 L513.60 193.13 L514.10 192.97 L514.60 192.80 L515.10 192.63 L515.60 192.45 L516.10 192.26 L516.60 192.07 L517.10 191.88 L517.60 191.67 L518.10 191.47 L518.60 191.25 L519.10 191.03 L519.60 190.80 L520.10 190.57 L520.60 190.33 L521.10 190.08 L521.60 189.82 L522.10 189.56 L522.60 189.30 L523.10 189.02 L523.60 188.74 L524.10 188.45 L524.60 188.15 L525.10 187.85 L525.60 187.54 L526.10 187.22 L526.60 186.89 L527.10 186.55 L527.60 186.21 L528.10 185.86 L528.60 185.50 L529.10 185.13 L529.60 184.76 L530.10 184.38 L530.60 183.98 L531.10 183.58 L531.60 183.17 L532.10 182.75 L532.60 182.33 L533.10 181.89 L533.60 181.45 L534.10 180.99 L534.60 180.53 L535.10 180.06 L535.60 179.57 L536.10 179.08 L536.60 178.58 L537.10 178.07 L537.60 177.55 L538.10 177.02 L538.60 176.48 L539.10 175.92 L539.60 175.36 L540.10 174.79 L540.60 174.21 L541.10 173.62 L541.60 173.01 L542.10 172.40 L542.60 171.78 L543.10 171.14 L543.60 170.50 L544.10 169.84 L544.60 169.17 L545.10 168.49 L545.60 167.80 L546.10 167.10 L546.60 166.39 L547.10 165.66 L547.60 164.93 L548.10 164.18 L548.60 163.43 L549.10 162.66 L549.60 161.88 L550.10 161.08 L550.60 160.28 L551.10 159.46 L551.60 158.64 L552.10 157.80 L552.60 156.95 L553.10 156.08 L553.60 155.21 L554.10 154.32 L554.60 153.42 L555.10 152.51 L555.60 151.59 L556.10 150.65 L556.60 149.70 L557.10 148.74 L557.60 147.77 L558.10 146.78 L558.60 145.79 L559.10 144.78 L559.60 143.75 L560.10 142.72 L560.60 141.67 L561.10 140.61 L561.60 139.53 L562.10 138.44 L562.60 137.34 L563.10 136.23 L563.60 135.10 L564.10 133.96 L564.60 132.81 L565.10 131.64 L565.60 130.46 L566.10 129.27 L566.60 128.06 L567.10 126.84 L567.60 125.61 L568.10 124.36 L568.60 123.10 L569.10 121.82 L569.60 120.53 L570.10 119.23 L570.60 117.92 L571.10 116.59 L571.60 115.25 L572.10 113.90 L572.60 112.54 L573.10 111.17 L573.60 109.79 L574.10 108.40 L574.60 107.01 L575.10 105.62 L575.60 104.21 L576.10 102.81 L576.60 101.40 L577.10 99.99 L577.60 98.58 L578.10 97.16 L578.60 95.75 L579.10 94.34 L579.60 92.93 L580.10 91.52 L580.60 90.12 L581.10 88.72 L581.60 87.33 L582.10 85.94 L582.60 84.57 L583.10 83.21 L583.60 81.87 L584.10 80.54 L584.60 79.23 L585.10 77.95 L585.60 76.69 L586.10 75.45 L586.60 74.25 L587.10 73.07 L587.60 71.93 L588.10 70.82 L588.60 69.75 L589.10 68.73 L589.60 67.74 L590.10 66.79 L590.60 65.89 L591.10 65.04 L591.60 64.23 L592.10 63.48 L592.60 62.77 L593.10 62.11 L593.60 61.51 L594.10 60.96 L594.60 60.47 L595.10 60.04 L595.60 59.66 L596.10 59.34 L596.60 59.09 L597.10 58.89 L597.60 58.76 L598.10 58.70 L598.60 58.70 L599.10 58.78 L599.60 58.91 L600.10 59.12 L600.60 59.39 L601.10 59.72 L601.60 60.11 L602.10 60.56 L602.60 61.06 L603.10 61.61 L603.60 62.21 L604.10 62.87 L604.60 63.56 L605.10 64.30 L605.60 65.09 L606.10 65.91 L606.60 66.77 L607.10 67.66 L607.60 68.58 L608.10 69.54 L608.60 70.52 L609.10 71.53 L609.60 72.56 L610.10 73.61 L610.60 74.68 L611.10 75.77 L611.60 76.87 L612.10 77.99 L612.60 79.11 L613.10 80.24 L613.60 81.38 L614.10 82.53 L614.60 83.69 L615.10 84.85 L615.60 86.02 L616.10 87.20 L616.60 88.38 L617.10 89.56 L617.60 90.75 L618.10 91.95 L618.60 93.15 L619.10 94.35 L619.60 95.55 L620.10 96.76 L620.60 97.97 L621.10 99.18 L621.60 100.39 L622.10 101.60 L622.60 102.81 L623.10 104.02 L623.60 105.24 L624.10 106.44 L624.60 107.65 L625.10 108.86 L625.60 110.06 L626.10 111.26 L626.60 112.46 L627.10 113.65 L627.60 114.83 L628.10 116.02 L628.60 117.19 L629.10 118.37 L629.60 119.53 L630.10 120.69 L630.60 121.84 L631.10 122.98 L631.60 124.12 L632.10 125.25 L632.60 126.37 L633.10 127.47 L633.60 128.57 L634.10 129.66 L634.60 130.74 L635.10 131.81 L635.60 132.86 L636.10 133.91 L636.60 134.94 L637.10 135.96 L637.60 136.98 L638.10 137.98 L638.60 138.97 L639.10 139.95 L639.60 140.92 L640.10 141.88 L640.60 142.83 L641.10 143.76 L641.60 144.69 L642.10 145.61 L642.60 146.52 L643.10 147.42 L643.60 148.30 L644.10 149.18 L644.60 150.05 L645.10 150.91 L645.60 151.75 L646.10 152.59 L646.60 153.42 L647.10 154.24 L647.60 155.05 L648.10 155.85 L648.60 156.64 L649.10 157.43 L649.60 158.20 L650.10 158.96 L650.60 159.72 L651.10 160.46 L651.60 161.20 L652.10 161.92 L652.60 162.64 L653.10 163.35 L653.60 164.05 L654.10 164.75 L654.60 165.43 L655.10 166.11 L655.60 166.77 L656.10 167.43 L656.60 168.08 L657.10 168.72 L657.60 169.36 L658.10 169.98 L658.60 170.60 L659.10 171.21 L659.60 171.81 L660.10 172.41 L660.60 172.99 L661.10 173.57 L661.60 174.14 L662.10 174.70 L662.60 175.26 L663.10 175.81 L663.60 176.35 L664.10 176.88 L664.60 177.41 L665.10 177.93 L665.60 178.44 L666.10 178.94 L666.60 179.44 L667.10 179.93 L667.60 180.42 L668.10 180.89 L668.60 181.36 L669.10 181.83 L669.60 182.28 L670.10 182.73 L670.60 183.18 L671.10 183.62 L671.60 184.05 L672.10 184.47 L672.60 184.89 L673.10 185.30 L673.60 185.71 L674.10 186.11 L674.60 186.51 L675.10 186.89 L675.60 187.28 L676.10 187.65 L676.60 188.03 L677.10 188.39 L677.60 188.75 L678.10 189.11 L678.60 189.46 L679.10 189.80 L679.60 190.14 L680.10 190.47 L680.60 190.80 L681.10 191.12 L681.60 191.44 L682.10 191.75 L682.60 192.06 L683.10 192.36 L683.60 192.66 L684.10 192.96 L684.60 193.25 L685.10 193.53 L685.60 193.81 L686.10 194.09 L686.60 194.36 L687.10 194.62 L687.60 194.89 L688.10 195.14 L688.60 195.40 L689.10 195.65 L689.60 195.90 L690.10 196.14 L690.60 196.38 L691.10 196.61 L691.60 196.84 L692.10 197.07 L692.60 197.29 L693.10 197.51 L693.60 197.73 L694.10 197.94 L694.60 198.15 L695.10 198.36 L695.60 198.56 L696.10 198.76 L696.60 198.96 L697.10 199.15 L697.60 199.34 L698.10 199.53 L698.60 199.72 L699.10 199.90 L699.60 200.08 L700.10 200.26 L700.60 200.43 L701.10 200.60 L701.60 200.77 L702.10 200.94 L702.60 201.11 L703.10 201.27 L703.60 201.43 L704.10 201.59 L704.60 201.75 L705.10 201.90 L705.60 202.05 L706.10 202.20 L706.60 202.35 L707.10 202.50 L707.60 202.65 L708.10 202.79 L708.60 202.93 L709.10 203.08 L709.60 203.22 L710.10 203.35 L710.60 203.49 L711.10 203.63 L711.60 203.76 L712.10 203.90 L712.60 204.03 L713.10 204.16 L713.60 204.29 L714.10 204.42 L714.60 204.55 L715.10 204.68 L715.60 204.81 L716.10 204.94 L716.60 205.07 L717.10 205.19 L717.60 205.32 L718.10 205.45 L718.60 205.57 L719.10 205.70 L719.60 205.82 L720.10 205.95 L720.60 206.08 L721.10 206.20 L721.60 206.33 L722.10 206.46 L722.60 206.58 L723.10 206.71 L723.60 206.84 L724.10 206.97 L724.60 207.09 L725.10 207.22 L725.60 207.35 L726.10 207.49 L726.60 207.62 L727.10 207.75 L727.60 207.88 L728.10 208.02 L728.60 208.15 L729.10 208.29 L729.60 208.43 L730.10 208.57 L730.60 208.71 L731.10 208.85 L731.60 209.00 L732.10 209.14 L732.60 209.29 L733.00 209.41" fill="none" stroke="#222" stroke-width="1.45" stroke-linejoin="round" stroke-linecap="round"/>
<path d="M437.60 203.77 L438.10 203.65 L438.60 203.52 L439.10 203.40 L439.60 203.28 L440.10 203.16 L440.60 203.04 L441.10 202.92 L441.60 202.81 L442.10 202.69 L442.60 202.58 L443.10 202.47 L443.60 202.36 L444.10 202.26 L444.60 202.15 L445.10 202.05 L445.60 201.95 L446.10 201.85 L446.60 201.75 L447.10 201.65 L447.60 201.56 L448.10 201.46 L448.60 201.37 L449.10 201.28 L449.60 201.19 L450.10 201.10 L450.60 201.02 L451.10 200.93 L451.60 200.85 L452.10 200.76 L452.60 200.68 L453.10 200.60 L453.60 200.53 L454.10 200.45 L454.60 200.37 L455.10 200.30 L455.60 200.23 L456.10 200.15 L456.60 200.08 L457.10 200.01 L457.60 199.95 L458.10 199.88 L458.60 199.81 L459.10 199.75 L459.60 199.69 L460.10 199.62 L460.60 199.56 L461.10 199.50 L461.60 199.44 L462.10 199.39 L462.60 199.33 L463.10 199.27 L463.60 199.22 L464.10 199.16 L464.60 199.11 L465.10 199.06 L465.60 199.01 L466.10 198.96 L466.60 198.91 L467.10 198.86 L467.60 198.82 L468.10 198.77 L468.60 198.72 L469.10 198.68 L469.60 198.64 L470.10 198.59 L470.60 198.55 L471.10 198.51 L471.60 198.47 L472.10 198.43 L472.60 198.39 L473.10 198.35 L473.60 198.32 L474.10 198.28 L474.60 198.24 L475.10 198.21 L475.60 198.17 L476.10 198.14 L476.60 198.11 L477.10 198.07 L477.60 198.04 L478.10 198.01 L478.60 197.98 L479.10 197.95 L479.60 197.92 L480.10 197.89 L480.60 197.86 L481.10 197.83 L481.60 197.80 L482.10 197.77 L482.60 197.75 L483.10 197.72 L483.60 197.69 L484.10 197.67 L484.60 197.64 L485.10 197.62 L485.60 197.59 L486.10 197.57 L486.60 197.54 L487.10 197.52 L487.60 197.49 L488.10 197.47 L488.60 197.45 L489.10 197.42 L489.60 197.40 L490.10 197.38 L490.60 197.36 L491.10 197.33 L491.60 197.31 L492.10 197.29 L492.60 197.27 L493.10 197.24 L493.60 197.22 L494.10 197.19 L494.60 197.17 L495.10 197.14 L495.60 197.11 L496.10 197.08 L496.60 197.05 L497.10 197.02 L497.60 196.99 L498.10 196.95 L498.60 196.92 L499.10 196.88 L499.60 196.84 L500.10 196.80 L500.60 196.75 L501.10 196.71 L501.60 196.66 L502.10 196.61 L502.60 196.56 L503.10 196.50 L503.60 196.44 L504.10 196.38 L504.60 196.31 L505.10 196.25 L505.60 196.18 L506.10 196.10 L506.60 196.02 L507.10 195.94 L507.60 195.86 L508.10 195.77 L508.60 195.68 L509.10 195.58 L509.60 195.48 L510.10 195.37 L510.60 195.26 L511.10 195.15 L511.60 195.03 L512.10 194.91 L512.60 194.78 L513.10 194.65 L513.60 194.51 L514.10 194.37 L514.60 194.22 L515.10 194.07 L515.60 193.91 L516.10 193.74 L516.60 193.58 L517.10 193.40 L517.60 193.22 L518.10 193.03 L518.60 192.84 L519.10 192.64 L519.60 192.43 L520.10 192.22 L520.60 192.00 L521.10 191.78 L521.60 191.54 L522.10 191.31 L522.60 191.06 L523.10 190.81 L523.60 190.55 L524.10 190.28 L524.60 190.00 L525.10 189.72 L525.60 189.43 L526.10 189.13 L526.60 188.83 L527.10 188.52 L527.60 188.19 L528.10 187.86 L528.60 187.53 L529.10 187.18 L529.60 186.82 L530.10 186.46 L530.60 186.09 L531.10 185.71 L531.60 185.32 L532.10 184.92 L532.60 184.51 L533.10 184.09 L533.60 183.67 L534.10 183.23 L534.60 182.78 L535.10 182.33 L535.60 181.86 L536.10 181.39 L536.60 180.91 L537.10 180.41 L537.60 179.91 L538.10 179.40 L538.60 178.88 L539.10 178.35 L539.60 177.80 L540.10 177.25 L540.60 176.69 L541.10 176.12 L541.60 175.54 L542.10 174.95 L542.60 174.35 L543.10 173.74 L543.60 173.12 L544.10 172.49 L544.60 171.85 L545.10 171.20 L545.60 170.54 L546.10 169.87 L546.60 169.19 L547.10 168.50 L547.60 167.80 L548.10 167.09 L548.60 166.37 L549.10 165.64 L549.60 164.90 L550.10 164.15 L550.60 163.38 L551.10 162.61 L551.60 161.83 L552.10 161.04 L552.60 160.23 L553.10 159.42 L553.60 158.60 L554.10 157.76 L554.60 156.92 L555.10 156.06 L555.60 155.19 L556.10 154.32 L556.60 153.43 L557.10 152.53 L557.60 151.62 L558.10 150.70 L558.60 149.77 L559.10 148.83 L559.60 147.88 L560.10 146.92 L560.60 145.94 L561.10 144.96 L561.60 143.96 L562.10 142.95 L562.60 141.94 L563.10 140.91 L563.60 139.87 L564.10 138.82 L564.60 137.76 L565.10 136.68 L565.60 135.60 L566.10 134.50 L566.60 133.40 L567.10 132.28 L567.60 131.15 L568.10 130.01 L568.60 128.86 L569.10 127.70 L569.60 126.53 L570.10 125.35 L570.60 124.15 L571.10 122.95 L571.60 121.75 L572.10 120.53 L572.60 119.30 L573.10 118.07 L573.60 116.83 L574.10 115.58 L574.60 114.33 L575.10 113.07 L575.60 111.80 L576.10 110.53 L576.60 109.25 L577.10 107.97 L577.60 106.68 L578.10 105.39 L578.60 104.10 L579.10 102.80 L579.60 101.50 L580.10 100.19 L580.60 98.89 L581.10 97.58 L581.60 96.27 L582.10 94.97 L582.60 93.68 L583.10 92.39 L583.60 91.11 L584.10 89.85 L584.60 88.61 L585.10 87.38 L585.60 86.18 L586.10 85.00 L586.60 83.84 L587.10 82.72 L587.60 81.62 L588.10 80.56 L588.60 79.54 L589.10 78.55 L589.60 77.60 L590.10 76.70 L590.60 75.83 L591.10 75.01 L591.60 74.23 L592.10 73.50 L592.60 72.81 L593.10 72.16 L593.60 71.56 L594.10 71.01 L594.60 70.51 L595.10 70.05 L595.60 69.65 L596.10 69.29 L596.60 68.99 L597.10 68.74 L597.60 68.55 L598.10 68.40 L598.60 68.32 L599.10 68.29 L599.60 68.31 L600.10 68.40 L600.60 68.54 L601.10 68.74 L601.60 69.01 L602.10 69.33 L602.60 69.72 L603.10 70.17 L603.60 70.68 L604.10 71.25 L604.60 71.89 L605.10 72.57 L605.60 73.31 L606.10 74.09 L606.60 74.92 L607.10 75.79 L607.60 76.71 L608.10 77.66 L608.60 78.64 L609.10 79.65 L609.60 80.70 L610.10 81.76 L610.60 82.85 L611.10 83.96 L611.60 85.09 L612.10 86.23 L612.60 87.38 L613.10 88.53 L613.60 89.69 L614.10 90.86 L614.60 92.02 L615.10 93.18 L615.60 94.34 L616.10 95.50 L616.60 96.65 L617.10 97.81 L617.60 98.96 L618.10 100.11 L618.60 101.26 L619.10 102.41 L619.60 103.55 L620.10 104.70 L620.60 105.83 L621.10 106.97 L621.60 108.10 L622.10 109.23 L622.60 110.35 L623.10 111.47 L623.60 112.59 L624.10 113.70 L624.60 114.81 L625.10 115.91 L625.60 117.01 L626.10 118.10 L626.60 119.19 L627.10 120.27 L627.60 121.35 L628.10 122.42 L628.60 123.49 L629.10 124.55 L629.60 125.60 L630.10 126.65 L630.60 127.68 L631.10 128.72 L631.60 129.74 L632.10 130.76 L632.60 131.77 L633.10 132.78 L633.60 133.77 L634.10 134.76 L634.60 135.74 L635.10 136.71 L635.60 137.67 L636.10 138.62 L636.60 139.57 L637.10 140.50 L637.60 141.43 L638.10 142.35 L638.60 143.25 L639.10 144.15 L639.60 145.04 L640.10 145.92 L640.60 146.79 L641.10 147.65 L641.60 148.51 L642.10 149.35 L642.60 150.18 L643.10 151.01 L643.60 151.82 L644.10 152.63 L644.60 153.43 L645.10 154.22 L645.60 155.00 L646.10 155.78 L646.60 156.54 L647.10 157.30 L647.60 158.04 L648.10 158.78 L648.60 159.51 L649.10 160.24 L649.60 160.95 L650.10 161.66 L650.60 162.36 L651.10 163.05 L651.60 163.73 L652.10 164.40 L652.60 165.07 L653.10 165.73 L653.60 166.38 L654.10 167.02 L654.60 167.66 L655.10 168.29 L655.60 168.91 L656.10 169.52 L656.60 170.13 L657.10 170.72 L657.60 171.32 L658.10 171.90 L658.60 172.48 L659.10 173.05 L659.60 173.61 L660.10 174.17 L660.60 174.71 L661.10 175.26 L661.60 175.79 L662.10 176.32 L662.60 176.84 L663.10 177.36 L663.60 177.86 L664.10 178.37 L664.60 178.86 L665.10 179.35 L665.60 179.83 L666.10 180.31 L666.60 180.78 L667.10 181.24 L667.60 181.70 L668.10 182.15 L668.60 182.59 L669.10 183.03 L669.60 183.47 L670.10 183.89 L670.60 184.32 L671.10 184.73 L671.60 185.14 L672.10 185.55 L672.60 185.95 L673.10 186.34 L673.60 186.73 L674.10 187.11 L674.60 187.49 L675.10 187.86 L675.60 188.22 L676.10 188.59 L676.60 188.94 L677.10 189.29 L677.60 189.64 L678.10 189.98 L678.60 190.31 L679.10 190.65 L679.60 190.97 L680.10 191.29 L680.60 191.61 L681.10 191.92 L681.60 192.23 L682.10 192.53 L682.60 192.83 L683.10 193.13 L683.60 193.42 L684.10 193.70 L684.60 193.98 L685.10 194.26 L685.60 194.53 L686.10 194.80 L686.60 195.07 L687.10 195.33 L687.60 195.58 L688.10 195.84 L688.60 196.09 L689.10 196.33 L689.60 196.57 L690.10 196.81 L690.60 197.05 L691.10 197.28 L691.60 197.51 L692.10 197.73 L692.60 197.95 L693.10 198.17 L693.60 198.38 L694.10 198.59 L694.60 198.80 L695.10 199.01 L695.60 199.21 L696.10 199.41 L696.60 199.60 L697.10 199.80 L697.60 199.99 L698.10 200.17 L698.60 200.36 L699.10 200.54 L699.60 200.72 L700.10 200.90 L700.60 201.07 L701.10 201.24 L701.60 201.41 L702.10 201.58 L702.60 201.75 L703.10 201.91 L703.60 202.07 L704.10 202.23 L704.60 202.39 L705.10 202.54 L705.60 202.70 L706.10 202.85 L706.60 203.00 L707.10 203.15 L707.60 203.29 L708.10 203.44 L708.60 203.58 L709.10 203.72 L709.60 203.86 L710.10 204.00 L710.60 204.14 L711.10 204.27 L711.60 204.41 L712.10 204.54 L712.60 204.67 L713.10 204.81 L713.60 204.94 L714.10 205.07 L714.60 205.19 L715.10 205.32 L715.60 205.45 L716.10 205.58 L716.60 205.70 L717.10 205.83 L717.60 205.95 L718.10 206.08 L718.60 206.20 L719.10 206.32 L719.60 206.44 L720.10 206.57 L720.60 206.69 L721.10 206.81 L721.60 206.93 L722.10 207.06 L722.60 207.18 L723.10 207.30 L723.60 207.42 L724.10 207.54 L724.60 207.67 L725.10 207.79 L725.60 207.91 L726.10 208.04 L726.60 208.16 L727.10 208.29 L727.60 208.41 L728.10 208.54 L728.60 208.66 L729.10 208.79 L729.60 208.92 L730.10 209.05 L730.60 209.18 L731.10 209.31 L731.60 209.44 L732.10 209.57 L732.60 209.71 L733.00 209.82" fill="none" stroke="#222" stroke-width="1.45" stroke-linejoin="round" stroke-linecap="round"/>
<path d="M437.60 225.74 L438.10 225.72 L438.60 225.71 L439.10 225.70 L439.60 225.69 L440.10 225.68 L440.60 225.67 L441.10 225.66 L441.60 225.65 L442.10 225.64 L442.60 225.63 L443.10 225.63 L443.60 225.62 L444.10 225.61 L444.60 225.60 L445.10 225.60 L445.60 225.59 L446.10 225.58 L446.60 225.57 L447.10 225.57 L447.60 225.56 L448.10 225.56 L448.60 225.55 L449.10 225.55 L449.60 225.54 L450.10 225.54 L450.60 225.53 L451.10 225.53 L451.60 225.52 L452.10 225.52 L452.60 225.52 L453.10 225.51 L453.60 225.51 L454.10 225.51 L454.60 225.50 L455.10 225.50 L455.60 225.50 L456.10 225.50 L456.60 225.49 L457.10 225.49 L457.60 225.49 L458.10 225.49 L458.60 225.49 L459.10 225.48 L459.60 225.48 L460.10 225.48 L460.60 225.48 L461.10 225.48 L461.60 225.48 L462.10 225.48 L462.60 225.48 L463.10 225.48 L463.60 225.48 L464.10 225.47 L464.60 225.47 L465.10 225.47 L465.60 225.47 L466.10 225.47 L466.60 225.47 L467.10 225.47 L467.60 225.47 L468.10 225.47 L468.60 225.47 L469.10 225.47 L469.60 225.47 L470.10 225.47 L470.60 225.47 L471.10 225.47 L471.60 225.48 L472.10 225.48 L472.60 225.48 L473.10 225.48 L473.60 225.48 L474.10 225.48 L474.60 225.48 L475.10 225.48 L475.60 225.48 L476.10 225.48 L476.60 225.48 L477.10 225.48 L477.60 225.48 L478.10 225.48 L478.60 225.48 L479.10 225.48 L479.60 225.48 L480.10 225.48 L480.60 225.48 L481.10 225.48 L481.60 225.47 L482.10 225.47 L482.60 225.47 L483.10 225.47 L483.60 225.47 L484.10 225.47 L484.60 225.47 L485.10 225.47 L485.60 225.47 L486.10 225.46 L486.60 225.46 L487.10 225.46 L487.60 225.46 L488.10 225.46 L488.60 225.45 L489.10 225.45 L489.60 225.45 L490.10 225.45 L490.60 225.44 L491.10 225.44 L491.60 225.44 L492.10 225.43 L492.60 225.43 L493.10 225.43 L493.60 225.42 L494.10 225.42 L494.60 225.41 L495.10 225.41 L495.60 225.40 L496.10 225.40 L496.60 225.39 L497.10 225.39 L497.60 225.38 L498.10 225.37 L498.60 225.37 L499.10 225.36 L499.60 225.35 L500.10 225.35 L500.60 225.34 L501.10 225.33 L501.60 225.32 L502.10 225.31 L502.60 225.30 L503.10 225.30 L503.60 225.29 L504.10 225.28 L504.60 225.27 L505.10 225.26 L505.60 225.25 L506.10 225.23 L506.60 225.22 L507.10 225.21 L507.60 225.20 L508.10 225.19 L508.60 225.17 L509.10 225.16 L509.60 225.15 L510.10 225.13 L510.60 225.12 L511.10 225.11 L511.60 225.09 L512.10 225.07 L512.60 225.06 L513.10 225.04 L513.60 225.03 L514.10 225.01 L514.60 224.99 L515.10 224.97 L515.60 224.96 L516.10 224.94 L516.60 224.92 L517.10 224.90 L517.60 224.88 L518.10 224.86 L518.60 224.84 L519.10 224.82 L519.60 224.79 L520.10 224.77 L520.60 224.75 L521.10 224.72 L521.60 224.70 L522.10 224.68 L522.60 224.65 L523.10 224.63 L523.60 224.60 L524.10 224.57 L524.60 224.55 L525.10 224.52 L525.60 224.49 L526.10 224.46 L526.60 224.43 L527.10 224.41 L527.60 224.38 L528.10 224.34 L528.60 224.31 L529.10 224.28 L529.60 224.25 L530.10 224.22 L530.60 224.18 L531.10 224.15 L531.60 224.11 L532.10 224.08 L532.60 224.04 L533.10 224.01 L533.60 223.97 L534.10 223.93 L534.60 223.89 L535.10 223.86 L535.60 223.82 L536.10 223.78 L536.60 223.73 L537.10 223.69 L537.60 223.65 L538.10 223.61 L538.60 223.57 L539.10 223.52 L539.60 223.48 L540.10 223.43 L540.60 223.38 L541.10 223.34 L541.60 223.29 L542.10 223.24 L542.60 223.19 L543.10 223.14 L543.60 223.09 L544.10 223.04 L544.60 222.99 L545.10 222.94 L545.60 222.89 L546.10 222.84 L546.60 222.78 L547.10 222.73 L547.60 222.67 L548.10 222.62 L548.60 222.56 L549.10 222.51 L549.60 222.45 L550.10 222.39 L550.60 222.34 L551.10 222.28 L551.60 222.22 L552.10 222.16 L552.60 222.10 L553.10 222.04 L553.60 221.98 L554.10 221.92 L554.60 221.86 L555.10 221.80 L555.60 221.73 L556.10 221.67 L556.60 221.61 L557.10 221.55 L557.60 221.48 L558.10 221.42 L558.60 221.35 L559.10 221.29 L559.60 221.22 L560.10 221.16 L560.60 221.09 L561.10 221.03 L561.60 220.96 L562.10 220.90 L562.60 220.83 L563.10 220.76 L563.60 220.69 L564.10 220.63 L564.60 220.56 L565.10 220.49 L565.60 220.42 L566.10 220.36 L566.60 220.29 L567.10 220.22 L567.60 220.15 L568.10 220.08 L568.60 220.01 L569.10 219.94 L569.60 219.87 L570.10 219.80 L570.60 219.73 L571.10 219.66 L571.60 219.59 L572.10 219.52 L572.60 219.45 L573.10 219.38 L573.60 219.31 L574.10 219.24 L574.60 219.17 L575.10 219.10 L575.60 219.03 L576.10 218.96 L576.60 218.89 L577.10 218.82 L577.60 218.75 L578.10 218.68 L578.60 218.61 L579.10 218.54 L579.60 218.47 L580.10 218.40 L580.60 218.33 L581.10 218.26 L581.60 218.20 L582.10 218.13 L582.60 218.06 L583.10 218.00 L583.60 217.94 L584.10 217.88 L584.60 217.82 L585.10 217.76 L585.60 217.70 L586.10 217.64 L586.60 217.59 L587.10 217.54 L587.60 217.49 L588.10 217.44 L588.60 217.39 L589.10 217.35 L589.60 217.31 L590.10 217.27 L590.60 217.23 L591.10 217.20 L591.60 217.16 L592.10 217.14 L592.60 217.11 L593.10 217.09 L593.60 217.07 L594.10 217.05 L594.60 217.03 L595.10 217.02 L595.60 217.01 L596.10 217.01 L596.60 217.01 L597.10 217.01 L597.60 217.02 L598.10 217.02 L598.60 217.03 L599.10 217.05 L599.60 217.07 L600.10 217.08 L600.60 217.11 L601.10 217.13 L601.60 217.16 L602.10 217.19 L602.60 217.22 L603.10 217.25 L603.60 217.29 L604.10 217.33 L604.60 217.37 L605.10 217.41 L605.60 217.45 L606.10 217.50 L606.60 217.54 L607.10 217.59 L607.60 217.64 L608.10 217.69 L608.60 217.75 L609.10 217.80 L609.60 217.86 L610.10 217.91 L610.60 217.97 L611.10 218.03 L611.60 218.09 L612.10 218.15 L612.60 218.21 L613.10 218.27 L613.60 218.33 L614.10 218.40 L614.60 218.46 L615.10 218.52 L615.60 218.59 L616.10 218.65 L616.60 218.72 L617.10 218.78 L617.60 218.85 L618.10 218.91 L618.60 218.98 L619.10 219.05 L619.60 219.11 L620.10 219.18 L620.60 219.25 L621.10 219.32 L621.60 219.39 L622.10 219.45 L622.60 219.52 L623.10 219.59 L623.60 219.66 L624.10 219.73 L624.60 219.80 L625.10 219.87 L625.60 219.94 L626.10 220.00 L626.60 220.07 L627.10 220.14 L627.60 220.21 L628.10 220.28 L628.60 220.35 L629.10 220.42 L629.60 220.49 L630.10 220.56 L630.60 220.63 L631.10 220.69 L631.60 220.76 L632.10 220.83 L632.60 220.90 L633.10 220.97 L633.60 221.03 L634.10 221.10 L634.60 221.17 L635.10 221.24 L635.60 221.30 L636.10 221.37 L636.60 221.43 L637.10 221.50 L637.60 221.56 L638.10 221.63 L638.60 221.69 L639.10 221.76 L639.60 221.82 L640.10 221.88 L640.60 221.94 L641.10 222.01 L641.60 222.07 L642.10 222.13 L642.60 222.19 L643.10 222.25 L643.60 222.30 L644.10 222.36 L644.60 222.42 L645.10 222.48 L645.60 222.53 L646.10 222.59 L646.60 222.64 L647.10 222.70 L647.60 222.75 L648.10 222.80 L648.60 222.85 L649.10 222.90 L649.60 222.95 L650.10 223.00 L650.60 223.05 L651.10 223.10 L651.60 223.14 L652.10 223.19 L652.60 223.23 L653.10 223.28 L653.60 223.32 L654.10 223.36 L654.60 223.40 L655.10 223.44 L655.60 223.48 L656.10 223.52 L656.60 223.56 L657.10 223.59 L657.60 223.63 L658.10 223.66 L658.60 223.70 L659.10 223.73 L659.60 223.77 L660.10 223.80 L660.60 223.83 L661.10 223.86 L661.60 223.89 L662.10 223.92 L662.60 223.95 L663.10 223.98 L663.60 224.00 L664.10 224.03 L664.60 224.06 L665.10 224.08 L665.60 224.11 L666.10 224.13 L666.60 224.16 L667.10 224.18 L667.60 224.20 L668.10 224.22 L668.60 224.24 L669.10 224.26 L669.60 224.28 L670.10 224.30 L670.60 224.32 L671.10 224.34 L671.60 224.36 L672.10 224.38 L672.60 224.39 L673.10 224.41 L673.60 224.43 L674.10 224.44 L674.60 224.46 L675.10 224.47 L675.60 224.49 L676.10 224.50 L676.60 224.51 L677.10 224.53 L677.60 224.54 L678.10 224.55 L678.60 224.56 L679.10 224.57 L679.60 224.58 L680.10 224.59 L680.60 224.60 L681.10 224.61 L681.60 224.62 L682.10 224.63 L682.60 224.64 L683.10 224.65 L683.60 224.66 L684.10 224.67 L684.60 224.67 L685.10 224.68 L685.60 224.69 L686.10 224.70 L686.60 224.70 L687.10 224.71 L687.60 224.72 L688.10 224.72 L688.60 224.73 L689.10 224.73 L689.60 224.74 L690.10 224.74 L690.60 224.75 L691.10 224.75 L691.60 224.76 L692.10 224.76 L692.60 224.77 L693.10 224.77 L693.60 224.78 L694.10 224.78 L694.60 224.78 L695.10 224.79 L695.60 224.79 L696.10 224.80 L696.60 224.80 L697.10 224.80 L697.60 224.81 L698.10 224.81 L698.60 224.81 L699.10 224.82 L699.60 224.82 L700.10 224.83 L700.60 224.83 L701.10 224.83 L701.60 224.84 L702.10 224.84 L702.60 224.84 L703.10 224.85 L703.60 224.85 L704.10 224.86 L704.60 224.86 L705.10 224.86 L705.60 224.87 L706.10 224.87 L706.60 224.88 L707.10 224.88 L707.60 224.89 L708.10 224.89 L708.60 224.90 L709.10 224.90 L709.60 224.91 L710.10 224.92 L710.60 224.92 L711.10 224.93 L711.60 224.93 L712.10 224.94 L712.60 224.95 L713.10 224.96 L713.60 224.96 L714.10 224.97 L714.60 224.98 L715.10 224.99 L715.60 225.00 L716.10 225.00 L716.60 225.01 L717.10 225.02 L717.60 225.03 L718.10 225.04 L718.60 225.05 L719.10 225.07 L719.60 225.08 L720.10 225.09 L720.60 225.10 L721.10 225.11 L721.60 225.13 L722.10 225.14 L722.60 225.15 L723.10 225.17 L723.60 225.18 L724.10 225.20 L724.60 225.21 L725.10 225.23 L725.60 225.25 L726.10 225.26 L726.60 225.28 L727.10 225.30 L727.60 225.32 L728.10 225.34 L728.60 225.36 L729.10 225.38 L729.60 225.40 L730.10 225.42 L730.60 225.44 L731.10 225.46 L731.60 225.49 L732.10 225.51 L732.60 225.54 L733.00 225.56" fill="none" stroke="#222" stroke-width="1.45" stroke-linejoin="round" stroke-linecap="round"/>
<text x="519.6" y="56.6" font-size="15.6">ext.</text>
<line x1="544.2" y1="52.4" x2="589" y2="67.3" stroke="#333" stroke-width="0.9"/>
<text x="500.8" y="92.5" font-size="15.6">abs.</text>
<line x1="531.2" y1="87.1" x2="578.2" y2="96.5" stroke="#333" stroke-width="0.9"/>
<text x="471.5" y="172.5" font-size="15.6">sca.</text>
<line x1="502" y1="170" x2="578.9" y2="218.5" stroke="#333" stroke-width="0.9"/>
<path d="M668.7 30.5 H713 V73.6 H668.7 Z M673.6 34.8 V69.1 H707.9 V34.8 Z" fill="#9e9ea8" fill-rule="evenodd"/>
<rect x="668.7" y="30.5" width="44.3" height="43.1" fill="none" stroke="#555" stroke-width="0.9"/>
<line x1="668.7" y1="30.6" x2="713" y2="30.6" stroke="#222" stroke-width="1"/>
<line x1="673.6" y1="34.8" x2="707.9" y2="34.8" stroke="#555" stroke-width="0.8"/>
<line x1="673.8" y1="34.8" x2="673.8" y2="92.3" stroke="#555" stroke-width="0.9"/>
<line x1="707.8" y1="34.8" x2="707.8" y2="92.3" stroke="#6a6a6a" stroke-width="0.9"/>
<line x1="669" y1="73" x2="669" y2="120.8" stroke="#666" stroke-width="1.0"/>
<line x1="712.8" y1="73" x2="712.8" y2="120.8" stroke="#666" stroke-width="1.0"/>
<line x1="678.8" y1="85.2" x2="702.7" y2="85.2" stroke="#111" stroke-width="1.2"/>
<path d="M674.3 85.2 L679.8 82.60000000000001 L679.8 87.8 Z" fill="#111"/>
<path d="M707.2 85.2 L701.7 82.60000000000001 L701.7 87.8 Z" fill="#111"/>
<line x1="674.0" y1="107.5" x2="707.8" y2="107.5" stroke="#111" stroke-width="1.2"/>
<path d="M669.5 107.5 L675.0 104.9 L675.0 110.1 Z" fill="#111"/>
<path d="M712.3 107.5 L706.8 104.9 L706.8 110.1 Z" fill="#111"/>
<text x="675.5" y="100.8" font-size="12">24 nm</text>
<text x="677.4" y="121.8" font-size="12">32 nm</text>
<rect x="54.3" y="305.5" width="302.5" height="222.79999999999995" fill="none" stroke="#505050" stroke-width="1.5"/>
<line x1="121.52" y1="528.3" x2="121.52" y2="523.3" stroke="#505050" stroke-width="1.2"/>
<line x1="188.74" y1="528.3" x2="188.74" y2="523.3" stroke="#505050" stroke-width="1.2"/>
<line x1="255.97" y1="528.3" x2="255.97" y2="523.3" stroke="#505050" stroke-width="1.2"/>
<line x1="323.19" y1="528.3" x2="323.19" y2="523.3" stroke="#505050" stroke-width="1.2"/>
<line x1="87.91" y1="528.3" x2="87.91" y2="525.3" stroke="#505050" stroke-width="1.1"/>
<line x1="155.13" y1="528.3" x2="155.13" y2="525.3" stroke="#505050" stroke-width="1.1"/>
<line x1="222.36" y1="528.3" x2="222.36" y2="525.3" stroke="#505050" stroke-width="1.1"/>
<line x1="289.58" y1="528.3" x2="289.58" y2="525.3" stroke="#505050" stroke-width="1.1"/>
<text transform="translate(54.30,543.5) scale(0.94,1)" text-anchor="middle" font-size="16">400</text>
<text transform="translate(121.52,543.5) scale(0.94,1)" text-anchor="middle" font-size="16">500</text>
<text transform="translate(188.74,543.5) scale(0.94,1)" text-anchor="middle" font-size="16">600</text>
<text transform="translate(255.97,543.5) scale(0.94,1)" text-anchor="middle" font-size="16">700</text>
<text transform="translate(323.19,543.5) scale(0.94,1)" text-anchor="middle" font-size="16">800</text>
<line x1="54.3" y1="517.00" x2="59.3" y2="517.00" stroke="#505050" stroke-width="1.2"/>
<line x1="54.3" y1="474.70" x2="59.3" y2="474.70" stroke="#505050" stroke-width="1.2"/>
<line x1="54.3" y1="432.40" x2="59.3" y2="432.40" stroke="#505050" stroke-width="1.2"/>
<line x1="54.3" y1="390.10" x2="59.3" y2="390.10" stroke="#505050" stroke-width="1.2"/>
<line x1="54.3" y1="347.80" x2="59.3" y2="347.80" stroke="#505050" stroke-width="1.2"/>
<line x1="54.3" y1="495.85" x2="57.3" y2="495.85" stroke="#505050" stroke-width="1.1"/>
<line x1="54.3" y1="453.55" x2="57.3" y2="453.55" stroke="#505050" stroke-width="1.1"/>
<line x1="54.3" y1="411.25" x2="57.3" y2="411.25" stroke="#505050" stroke-width="1.1"/>
<line x1="54.3" y1="368.95" x2="57.3" y2="368.95" stroke="#505050" stroke-width="1.1"/>
<line x1="54.3" y1="326.65" x2="57.3" y2="326.65" stroke="#505050" stroke-width="1.1"/>
<text transform="translate(49.80,521.30) scale(0.94,1)" text-anchor="end" font-size="16">0</text>
<text transform="translate(49.80,479.00) scale(0.94,1)" text-anchor="end" font-size="16">1</text>
<text transform="translate(49.80,436.70) scale(0.94,1)" text-anchor="end" font-size="16">2</text>
<text transform="translate(49.80,394.40) scale(0.94,1)" text-anchor="end" font-size="16">3</text>
<text transform="translate(49.80,352.10) scale(0.94,1)" text-anchor="end" font-size="16">4</text>
<text transform="translate(49.80,309.80) scale(0.94,1)" text-anchor="end" font-size="16">5</text>
<text x="134.9" y="566.8" font-size="19.2">Wavelength (nm)</text>
<text transform="translate(30.1,460) rotate(-90)" font-size="19.5">&#963; (10<tspan dy="-7" font-size="12.3">-15</tspan><tspan dy="7"> m</tspan><tspan dy="-7" font-size="12.3">2</tspan><tspan dy="7">)</tspan></text>
<text x="64" y="326.5" font-size="19" font-weight="bold">C</text>
<path d="M54.30 483.10 C55.92 483.22 60.77 483.53 64.00 483.80 C67.23 484.07 70.45 484.38 73.70 484.70 C76.95 485.02 80.22 485.37 83.50 485.70 C86.78 486.03 90.65 486.40 93.40 486.70 C96.15 487.00 98.02 487.28 100.00 487.50 C101.98 487.72 103.55 488.28 105.30 488.00 C107.05 487.72 108.75 486.70 110.50 485.80 C112.25 484.90 114.05 483.75 115.80 482.60 C117.55 481.45 119.25 480.38 121.00 478.90 C122.75 477.42 124.55 475.53 126.30 473.70 C128.05 471.87 129.75 469.92 131.50 467.90 C133.25 465.88 135.03 463.72 136.80 461.60 C138.57 459.48 140.52 456.95 142.10 455.20 C143.68 453.45 144.90 451.47 146.30 451.10 C147.70 450.73 149.10 451.62 150.50 453.00 C151.90 454.38 153.30 456.77 154.70 459.40 C156.10 462.03 157.50 465.65 158.90 468.80 C160.30 471.95 161.70 475.68 163.10 478.30 C164.50 480.92 165.55 482.60 167.30 484.50 C169.05 486.40 171.48 488.32 173.60 489.70 C175.72 491.08 177.63 492.07 180.00 492.80 C182.37 493.53 185.78 494.20 187.80 494.10 C189.82 494.00 190.52 493.10 192.10 492.20 C193.68 491.30 195.95 489.90 197.30 488.70 C198.65 487.50 199.33 486.30 200.20 485.00 C201.07 483.70 201.52 483.02 202.50 480.90 C203.48 478.78 205.07 475.18 206.10 472.30 C207.13 469.42 208.00 466.48 208.70 463.60 C209.40 460.72 209.83 457.85 210.30 455.00 C210.77 452.15 211.08 449.35 211.50 446.50 C211.92 443.65 212.37 440.77 212.80 437.90 C213.23 435.03 213.67 432.18 214.10 429.30 C214.53 426.42 215.08 422.98 215.40 420.60 C215.72 418.22 215.87 416.95 216.00 415.00 C216.13 413.05 216.02 411.37 216.20 408.90 C216.38 406.43 216.77 403.08 217.10 400.20 C217.43 397.32 217.77 394.47 218.20 391.60 C218.63 388.73 219.23 385.27 219.70 383.00 C220.17 380.73 220.65 379.30 221.00 378.00 C221.35 376.70 221.52 375.20 221.80 375.20 C222.08 375.20 222.40 376.70 222.70 378.00 C223.00 379.30 223.20 380.73 223.60 383.00 C224.00 385.27 224.67 388.73 225.10 391.60 C225.53 394.47 225.83 397.32 226.20 400.20 C226.57 403.08 227.00 406.43 227.30 408.90 C227.60 411.37 227.80 413.05 228.00 415.00 C228.20 416.95 228.27 418.22 228.50 420.60 C228.73 422.98 229.08 426.42 229.40 429.30 C229.72 432.18 229.98 435.03 230.40 437.90 C230.82 440.77 231.43 443.62 231.90 446.50 C232.37 449.38 232.78 452.12 233.20 455.20 C233.62 458.28 233.88 461.78 234.40 465.00 C234.92 468.22 235.52 471.33 236.30 474.50 C237.08 477.67 238.02 480.92 239.10 484.00 C240.18 487.08 241.40 490.25 242.80 493.00 C244.20 495.75 245.80 498.47 247.50 500.50 C249.20 502.53 250.83 503.78 253.00 505.20 C255.17 506.62 257.83 507.97 260.50 509.00 C263.17 510.03 265.87 510.68 269.00 511.40 C272.13 512.12 276.13 512.80 279.30 513.30 C282.47 513.80 284.55 514.05 288.00 514.40 C291.45 514.75 295.50 515.13 300.00 515.40 C304.50 515.67 310.00 515.85 315.00 516.00 C320.00 516.15 325.00 516.22 330.00 516.30 C335.00 516.38 340.53 516.45 345.00 516.50 C349.47 516.55 354.83 516.58 356.80 516.60" fill="none" stroke="#222" stroke-width="1.45" stroke-linejoin="round" stroke-linecap="round"/>
<path d="M54.30 484.10 C55.92 484.22 60.77 484.53 64.00 484.80 C67.23 485.07 70.45 485.38 73.70 485.70 C76.95 486.02 80.22 486.37 83.50 486.70 C86.78 487.03 90.65 487.40 93.40 487.70 C96.15 488.00 98.02 488.28 100.00 488.50 C101.98 488.72 103.55 489.28 105.30 489.00 C107.05 488.72 108.75 487.70 110.50 486.80 C112.25 485.90 114.05 484.75 115.80 483.60 C117.55 482.45 119.25 481.38 121.00 479.90 C122.75 478.42 124.55 476.53 126.30 474.70 C128.05 472.87 129.75 470.92 131.50 468.90 C133.25 466.88 135.03 464.68 136.80 462.60 C138.57 460.52 140.52 458.08 142.10 456.40 C143.68 454.72 144.90 452.83 146.30 452.50 C147.70 452.17 149.10 453.05 150.50 454.40 C151.90 455.75 153.30 458.00 154.70 460.60 C156.10 463.20 157.50 466.85 158.90 470.00 C160.30 473.15 161.70 476.85 163.10 479.50 C164.50 482.15 165.55 483.93 167.30 485.90 C169.05 487.87 171.48 489.88 173.60 491.30 C175.72 492.72 177.63 493.67 180.00 494.40 C182.37 495.13 185.78 495.80 187.80 495.70 C189.82 495.60 190.52 494.70 192.10 493.80 C193.68 492.90 195.78 491.60 197.30 490.30 C198.82 489.00 200.08 487.43 201.20 486.00 C202.32 484.57 202.95 483.98 204.00 481.70 C205.05 479.42 206.48 475.32 207.50 472.30 C208.52 469.28 209.40 466.48 210.10 463.60 C210.80 460.72 211.22 457.85 211.70 455.00 C212.18 452.15 212.55 449.35 213.00 446.50 C213.45 443.65 213.93 440.77 214.40 437.90 C214.87 435.03 215.43 432.23 215.80 429.30 C216.17 426.37 216.28 422.98 216.60 420.30 C216.92 417.62 217.33 415.10 217.70 413.20 C218.07 411.30 218.40 410.33 218.80 408.90 C219.20 407.47 219.72 405.92 220.10 404.60 C220.48 403.28 220.82 401.87 221.10 401.00 C221.38 400.13 221.57 399.40 221.80 399.40 C222.03 399.40 222.28 400.13 222.50 401.00 C222.72 401.87 222.78 403.28 223.10 404.60 C223.42 405.92 224.03 407.47 224.40 408.90 C224.77 410.33 224.98 411.30 225.30 413.20 C225.62 415.10 225.92 417.62 226.30 420.30 C226.68 422.98 227.17 426.37 227.60 429.30 C228.03 432.23 228.43 435.03 228.90 437.90 C229.37 440.77 229.93 443.62 230.40 446.50 C230.87 449.38 231.28 452.12 231.70 455.20 C232.12 458.28 232.38 461.78 232.90 465.00 C233.42 468.22 234.02 471.33 234.80 474.50 C235.58 477.67 236.48 480.75 237.60 484.00 C238.72 487.25 240.03 491.05 241.50 494.00 C242.97 496.95 244.60 499.63 246.40 501.70 C248.20 503.77 250.02 504.98 252.30 506.40 C254.58 507.82 257.38 509.17 260.10 510.20 C262.82 511.23 265.40 511.88 268.60 512.60 C271.80 513.32 276.07 514.03 279.30 514.50 C282.53 514.97 284.55 515.12 288.00 515.40 C291.45 515.68 295.50 516.00 300.00 516.20 C304.50 516.40 310.00 516.50 315.00 516.60 C320.00 516.70 325.00 516.75 330.00 516.80 C335.00 516.85 340.53 516.88 345.00 516.90 C349.47 516.92 354.83 516.90 356.80 516.90" fill="none" stroke="#222" stroke-width="1.45" stroke-linejoin="round" stroke-linecap="round"/>
<path d="M54.30 516.62 L54.80 516.63 L55.30 516.64 L55.80 516.65 L56.30 516.66 L56.80 516.66 L57.30 516.67 L57.80 516.68 L58.30 516.69 L58.80 516.69 L59.30 516.70 L59.80 516.71 L60.30 516.72 L60.80 516.72 L61.30 516.73 L61.80 516.73 L62.30 516.74 L62.80 516.75 L63.30 516.75 L63.80 516.76 L64.30 516.76 L64.80 516.77 L65.30 516.77 L65.80 516.78 L66.30 516.78 L66.80 516.78 L67.30 516.79 L67.80 516.79 L68.30 516.79 L68.80 516.80 L69.30 516.80 L69.80 516.80 L70.30 516.81 L70.80 516.81 L71.30 516.81 L71.80 516.81 L72.30 516.82 L72.80 516.82 L73.30 516.82 L73.80 516.82 L74.30 516.82 L74.80 516.82 L75.30 516.82 L75.80 516.82 L76.30 516.82 L76.80 516.82 L77.30 516.82 L77.80 516.82 L78.30 516.82 L78.80 516.82 L79.30 516.82 L79.80 516.82 L80.30 516.82 L80.80 516.82 L81.30 516.82 L81.80 516.82 L82.30 516.82 L82.80 516.82 L83.30 516.81 L83.80 516.81 L84.30 516.81 L84.80 516.81 L85.30 516.81 L85.80 516.80 L86.30 516.80 L86.80 516.80 L87.30 516.80 L87.80 516.79 L88.30 516.79 L88.80 516.79 L89.30 516.78 L89.80 516.78 L90.30 516.78 L90.80 516.77 L91.30 516.77 L91.80 516.76 L92.30 516.76 L92.80 516.76 L93.30 516.75 L93.80 516.75 L94.30 516.74 L94.80 516.74 L95.30 516.73 L95.80 516.73 L96.30 516.72 L96.80 516.72 L97.30 516.71 L97.80 516.71 L98.30 516.70 L98.80 516.70 L99.30 516.69 L99.80 516.69 L100.30 516.68 L100.80 516.67 L101.30 516.67 L101.80 516.66 L102.30 516.66 L102.80 516.65 L103.30 516.64 L103.80 516.64 L104.30 516.63 L104.80 516.62 L105.30 516.62 L105.80 516.61 L106.30 516.60 L106.80 516.60 L107.30 516.59 L107.80 516.58 L108.30 516.58 L108.80 516.57 L109.30 516.56 L109.80 516.55 L110.30 516.55 L110.80 516.54 L111.30 516.53 L111.80 516.53 L112.30 516.52 L112.80 516.51 L113.30 516.50 L113.80 516.49 L114.30 516.49 L114.80 516.48 L115.30 516.47 L115.80 516.46 L116.30 516.46 L116.80 516.45 L117.30 516.44 L117.80 516.43 L118.30 516.42 L118.80 516.42 L119.30 516.41 L119.80 516.40 L120.30 516.39 L120.80 516.38 L121.30 516.38 L121.80 516.37 L122.30 516.36 L122.80 516.35 L123.30 516.34 L123.80 516.33 L124.30 516.33 L124.80 516.32 L125.30 516.31 L125.80 516.30 L126.30 516.29 L126.80 516.28 L127.30 516.28 L127.80 516.27 L128.30 516.26 L128.80 516.25 L129.30 516.24 L129.80 516.23 L130.30 516.22 L130.80 516.22 L131.30 516.21 L131.80 516.20 L132.30 516.19 L132.80 516.18 L133.30 516.17 L133.80 516.17 L134.30 516.16 L134.80 516.15 L135.30 516.14 L135.80 516.13 L136.30 516.13 L136.80 516.12 L137.30 516.11 L137.80 516.10 L138.30 516.09 L138.80 516.08 L139.30 516.08 L139.80 516.07 L140.30 516.06 L140.80 516.05 L141.30 516.04 L141.80 516.04 L142.30 516.03 L142.80 516.02 L143.30 516.01 L143.80 516.01 L144.30 516.00 L144.80 515.99 L145.30 515.98 L145.80 515.98 L146.30 515.97 L146.80 515.96 L147.30 515.95 L147.80 515.95 L148.30 515.94 L148.80 515.93 L149.30 515.93 L149.80 515.92 L150.30 515.91 L150.80 515.90 L151.30 515.90 L151.80 515.89 L152.30 515.88 L152.80 515.88 L153.30 515.87 L153.80 515.87 L154.30 515.86 L154.80 515.85 L155.30 515.85 L155.80 515.84 L156.30 515.83 L156.80 515.83 L157.30 515.82 L157.80 515.82 L158.30 515.81 L158.80 515.81 L159.30 515.80 L159.80 515.80 L160.30 515.79 L160.80 515.79 L161.30 515.78 L161.80 515.78 L162.30 515.77 L162.80 515.77 L163.30 515.76 L163.80 515.76 L164.30 515.75 L164.80 515.75 L165.30 515.74 L165.80 515.74 L166.30 515.74 L166.80 515.73 L167.30 515.73 L167.80 515.73 L168.30 515.72 L168.80 515.72 L169.30 515.71 L169.80 515.71 L170.30 515.71 L170.80 515.70 L171.30 515.70 L171.80 515.70 L172.30 515.69 L172.80 515.69 L173.30 515.68 L173.80 515.68 L174.30 515.68 L174.80 515.67 L175.30 515.67 L175.80 515.66 L176.30 515.66 L176.80 515.65 L177.30 515.65 L177.80 515.64 L178.30 515.64 L178.80 515.63 L179.30 515.63 L179.80 515.62 L180.30 515.61 L180.80 515.61 L181.30 515.60 L181.80 515.59 L182.30 515.59 L182.80 515.58 L183.30 515.57 L183.80 515.56 L184.30 515.55 L184.80 515.54 L185.30 515.53 L185.80 515.52 L186.30 515.51 L186.80 515.50 L187.30 515.49 L187.80 515.48 L188.30 515.46 L188.80 515.45 L189.30 515.44 L189.80 515.42 L190.30 515.40 L190.80 515.38 L191.30 515.35 L191.80 515.32 L192.30 515.28 L192.80 515.24 L193.30 515.19 L193.80 515.13 L194.30 515.07 L194.80 515.00 L195.30 514.92 L195.80 514.82 L196.30 514.72 L196.80 514.61 L197.30 514.49 L197.80 514.35 L198.30 514.20 L198.80 514.04 L199.30 513.87 L199.80 513.68 L200.30 513.47 L200.80 513.25 L201.30 513.01 L201.80 512.76 L202.30 512.48 L202.80 512.19 L203.30 511.89 L203.80 511.57 L204.30 511.23 L204.80 510.88 L205.30 510.52 L205.80 510.15 L206.30 509.76 L206.80 509.36 L207.30 508.95 L207.80 508.53 L208.30 508.10 L208.80 507.66 L209.30 507.21 L209.80 506.75 L210.30 506.29 L210.80 505.82 L211.30 505.34 L211.80 504.86 L212.30 504.37 L212.80 503.88 L213.30 503.39 L213.80 502.89 L214.30 502.39 L214.80 501.89 L215.30 501.38 L215.80 500.88 L216.30 500.38 L216.80 499.87 L217.30 499.37 L217.80 498.87 L218.30 498.37 L218.80 497.88 L219.30 497.39 L219.80 496.91 L220.30 496.43 L220.80 495.96 L221.30 495.53 L221.80 495.15 L222.30 494.84 L222.80 494.61 L223.30 494.49 L223.80 494.49 L224.30 494.62 L224.80 494.91 L225.30 495.34 L225.80 495.89 L226.30 496.52 L226.80 497.20 L227.30 497.91 L227.80 498.65 L228.30 499.41 L228.80 500.17 L229.30 500.93 L229.80 501.69 L230.30 502.42 L230.80 503.13 L231.30 503.81 L231.80 504.47 L232.30 505.09 L232.80 505.69 L233.30 506.26 L233.80 506.80 L234.30 507.32 L234.80 507.81 L235.30 508.28 L235.80 508.73 L236.30 509.15 L236.80 509.55 L237.30 509.93 L237.80 510.29 L238.30 510.63 L238.80 510.95 L239.30 511.25 L239.80 511.53 L240.30 511.80 L240.80 512.05 L241.30 512.28 L241.80 512.50 L242.30 512.70 L242.80 512.89 L243.30 513.07 L243.80 513.23 L244.30 513.39 L244.80 513.53 L245.30 513.66 L245.80 513.78 L246.30 513.89 L246.80 513.99 L247.30 514.09 L247.80 514.18 L248.30 514.26 L248.80 514.33 L249.30 514.40 L249.80 514.47 L250.30 514.53 L250.80 514.59 L251.30 514.65 L251.80 514.70 L252.30 514.76 L252.80 514.81 L253.30 514.86 L253.80 514.91 L254.30 514.96 L254.80 515.01 L255.30 515.06 L255.80 515.11 L256.30 515.16 L256.80 515.21 L257.30 515.25 L257.80 515.30 L258.30 515.34 L258.80 515.39 L259.30 515.43 L259.80 515.47 L260.30 515.52 L260.80 515.56 L261.30 515.60 L261.80 515.64 L262.30 515.68 L262.80 515.72 L263.30 515.75 L263.80 515.79 L264.30 515.83 L264.80 515.86 L265.30 515.90 L265.80 515.93 L266.30 515.97 L266.80 516.00 L267.30 516.03 L267.80 516.07 L268.30 516.10 L268.80 516.13 L269.30 516.16 L269.80 516.19 L270.30 516.22 L270.80 516.25 L271.30 516.28 L271.80 516.30 L272.30 516.33 L272.80 516.36 L273.30 516.38 L273.80 516.41 L274.30 516.43 L274.80 516.46 L275.30 516.48 L275.80 516.50 L276.30 516.53 L276.80 516.55 L277.30 516.57 L277.80 516.59 L278.30 516.61 L278.80 516.63 L279.30 516.65 L279.80 516.67 L280.30 516.69 L280.80 516.71 L281.30 516.72 L281.80 516.74 L282.30 516.76 L282.80 516.77 L283.30 516.79 L283.80 516.81 L284.30 516.82 L284.80 516.83 L285.30 516.85 L285.80 516.86 L286.30 516.88 L286.80 516.89 L287.30 516.90 L287.80 516.91 L288.30 516.93 L288.80 516.94 L289.30 516.95 L289.80 516.96 L290.30 516.97 L290.80 516.98 L291.30 516.99 L291.80 517.00 L292.30 517.01 L292.80 517.01 L293.30 517.02 L293.80 517.03 L294.30 517.04 L294.80 517.04 L295.30 517.05 L295.80 517.06 L296.30 517.06 L296.80 517.07 L297.30 517.08 L297.80 517.08 L298.30 517.09 L298.80 517.09 L299.30 517.10 L299.80 517.10 L300.30 517.10 L300.80 517.11 L301.30 517.11 L301.80 517.11 L302.30 517.12 L302.80 517.12 L303.30 517.12 L303.80 517.13 L304.30 517.13 L304.80 517.13 L305.30 517.13 L305.80 517.13 L306.30 517.13 L306.80 517.14 L307.30 517.14 L307.80 517.14 L308.30 517.14 L308.80 517.14 L309.30 517.14 L309.80 517.14 L310.30 517.14 L310.80 517.14 L311.30 517.14 L311.80 517.14 L312.30 517.14 L312.80 517.14 L313.30 517.14 L313.80 517.14 L314.30 517.14 L314.80 517.13 L315.30 517.13 L315.80 517.13 L316.30 517.13 L316.80 517.13 L317.30 517.13 L317.80 517.13 L318.30 517.13 L318.80 517.12 L319.30 517.12 L319.80 517.12 L320.30 517.12 L320.80 517.12 L321.30 517.12 L321.80 517.11 L322.30 517.11 L322.80 517.11 L323.30 517.11 L323.80 517.11 L324.30 517.11 L324.80 517.10 L325.30 517.10 L325.80 517.10 L326.30 517.10 L326.80 517.10 L327.30 517.10 L327.80 517.09 L328.30 517.09 L328.80 517.09 L329.30 517.09 L329.80 517.09 L330.30 517.09 L330.80 517.09 L331.30 517.09 L331.80 517.09 L332.30 517.08 L332.80 517.08 L333.30 517.08 L333.80 517.08 L334.30 517.08 L334.80 517.08 L335.30 517.08 L335.80 517.08 L336.30 517.08 L336.80 517.08 L337.30 517.08 L337.80 517.08 L338.30 517.08 L338.80 517.09 L339.30 517.09 L339.80 517.09 L340.30 517.09 L340.80 517.09 L341.30 517.09 L341.80 517.10 L342.30 517.10 L342.80 517.10 L343.30 517.10 L343.80 517.11 L344.30 517.11 L344.80 517.11 L345.30 517.12 L345.80 517.12 L346.30 517.13 L346.80 517.13 L347.30 517.13 L347.80 517.14 L348.30 517.15 L348.80 517.15 L349.30 517.16 L349.80 517.16 L350.30 517.17 L350.80 517.18 L351.30 517.18 L351.80 517.19 L352.30 517.20 L352.80 517.21 L353.30 517.22 L353.80 517.22 L354.30 517.23 L354.80 517.24 L355.30 517.25 L355.80 517.26 L356.30 517.27 L356.80 517.28" fill="none" stroke="#222" stroke-width="1.45" stroke-linejoin="round" stroke-linecap="round"/>
<text x="165.2" y="376.20000000000005" font-size="15.6">ext.</text>
<line x1="188.9" y1="373.7" x2="216.5" y2="382.8" stroke="#333" stroke-width="0.9"/>
<text x="154.7" y="401.5" font-size="15.6">abs.</text>
<line x1="184.2" y1="395.2" x2="219.3" y2="405.2" stroke="#333" stroke-width="0.9"/>
<text x="136.7" y="438.90000000000003" font-size="15.6">sca.</text>
<line x1="164.2" y1="440.8" x2="215.5" y2="500.7" stroke="#333" stroke-width="0.9"/>
<rect x="277.5" y="325.6" width="60" height="26.7" rx="3.5" fill="#9e9ea8" stroke="#333" stroke-width="1"/>
<line x1="259.7" y1="325.6" x2="278" y2="325.6" stroke="#666" stroke-width="1.0"/>
<line x1="259.7" y1="352.3" x2="278" y2="352.3" stroke="#666" stroke-width="1.0"/>
<line x1="277.5" y1="352.3" x2="277.5" y2="373.5" stroke="#666" stroke-width="1.0"/>
<line x1="337.5" y1="352.3" x2="337.5" y2="373.5" stroke="#666" stroke-width="1.0"/>
<line x1="268" y1="330.7" x2="268" y2="347.2" stroke="#111" stroke-width="1.2"/>
<path d="M268 326.2 L265.4 331.7 L270.6 331.7 Z" fill="#111"/>
<path d="M268 351.7 L265.4 346.2 L270.6 346.2 Z" fill="#111"/>
<line x1="282.6" y1="366.1" x2="332.4" y2="366.1" stroke="#111" stroke-width="1.2"/>
<path d="M278.1 366.1 L283.6 363.5 L283.6 368.70000000000005 Z" fill="#111"/>
<path d="M336.9 366.1 L331.4 363.5 L331.4 368.70000000000005 Z" fill="#111"/>
<text x="220.1" y="344" font-size="12">19.8 nm</text>
<text x="289.1" y="382.3" font-size="12">44 nm</text>
<rect x="436.7" y="305.5" width="302.59999999999997" height="222.29999999999995" fill="none" stroke="#505050" stroke-width="1.5"/>
<line x1="479.93" y1="527.8" x2="479.93" y2="522.8" stroke="#505050" stroke-width="1.2"/>
<line x1="523.16" y1="527.8" x2="523.16" y2="522.8" stroke="#505050" stroke-width="1.2"/>
<line x1="566.39" y1="527.8" x2="566.39" y2="522.8" stroke="#505050" stroke-width="1.2"/>
<line x1="609.61" y1="527.8" x2="609.61" y2="522.8" stroke="#505050" stroke-width="1.2"/>
<line x1="652.84" y1="527.8" x2="652.84" y2="522.8" stroke="#505050" stroke-width="1.2"/>
<line x1="696.07" y1="527.8" x2="696.07" y2="522.8" stroke="#505050" stroke-width="1.2"/>
<line x1="458.31" y1="527.8" x2="458.31" y2="524.8" stroke="#505050" stroke-width="1.1"/>
<line x1="501.54" y1="527.8" x2="501.54" y2="524.8" stroke="#505050" stroke-width="1.1"/>
<line x1="544.77" y1="527.8" x2="544.77" y2="524.8" stroke="#505050" stroke-width="1.1"/>
<line x1="588.00" y1="527.8" x2="588.00" y2="524.8" stroke="#505050" stroke-width="1.1"/>
<line x1="631.23" y1="527.8" x2="631.23" y2="524.8" stroke="#505050" stroke-width="1.1"/>
<line x1="674.46" y1="527.8" x2="674.46" y2="524.8" stroke="#505050" stroke-width="1.1"/>
<line x1="717.69" y1="527.8" x2="717.69" y2="524.8" stroke="#505050" stroke-width="1.1"/>
<text transform="translate(436.70,542.8) scale(0.94,1)" text-anchor="middle" font-size="16">300</text>
<text transform="translate(479.93,542.8) scale(0.94,1)" text-anchor="middle" font-size="16">400</text>
<text transform="translate(523.16,542.8) scale(0.94,1)" text-anchor="middle" font-size="16">500</text>
<text transform="translate(566.39,542.8) scale(0.94,1)" text-anchor="middle" font-size="16">600</text>
<text transform="translate(609.61,542.8) scale(0.94,1)" text-anchor="middle" font-size="16">700</text>
<text transform="translate(652.84,542.8) scale(0.94,1)" text-anchor="middle" font-size="16">800</text>
<text transform="translate(696.07,542.8) scale(0.94,1)" text-anchor="middle" font-size="16">900</text>
<text transform="translate(739.30,542.8) scale(0.94,1)" text-anchor="middle" font-size="16">1000</text>
<line x1="436.7" y1="480.02" x2="441.7" y2="480.02" stroke="#505050" stroke-width="1.2"/>
<line x1="436.7" y1="432.05" x2="441.7" y2="432.05" stroke="#505050" stroke-width="1.2"/>
<line x1="436.7" y1="384.08" x2="441.7" y2="384.08" stroke="#505050" stroke-width="1.2"/>
<line x1="436.7" y1="336.10" x2="441.7" y2="336.10" stroke="#505050" stroke-width="1.2"/>
<line x1="436.7" y1="504.01" x2="439.7" y2="504.01" stroke="#505050" stroke-width="1.1"/>
<line x1="436.7" y1="456.04" x2="439.7" y2="456.04" stroke="#505050" stroke-width="1.1"/>
<line x1="436.7" y1="408.06" x2="439.7" y2="408.06" stroke="#505050" stroke-width="1.1"/>
<line x1="436.7" y1="360.09" x2="439.7" y2="360.09" stroke="#505050" stroke-width="1.1"/>
<line x1="436.7" y1="312.11" x2="439.7" y2="312.11" stroke="#505050" stroke-width="1.1"/>
<text transform="translate(434.10,532.30) scale(0.94,1)" text-anchor="end" font-size="16">0</text>
<text transform="translate(434.10,484.32) scale(0.94,1)" text-anchor="end" font-size="16">30</text>
<text transform="translate(434.10,436.35) scale(0.94,1)" text-anchor="end" font-size="16">60</text>
<text transform="translate(434.10,388.38) scale(0.94,1)" text-anchor="end" font-size="16">90</text>
<text transform="translate(434.10,340.40) scale(0.94,1)" text-anchor="end" font-size="16">120</text>
<text x="538.7" y="567.6" font-size="19.2">Wavelength (nm)</text>
<text transform="translate(401.8,458) rotate(-90)" font-size="19.5">&#963; (10<tspan dy="-7" font-size="12.3">-15</tspan><tspan dy="7"> m</tspan><tspan dy="-7" font-size="12.3">2</tspan><tspan dy="7">)</tspan></text>
<text x="445.8" y="327" font-size="19" font-weight="bold">D</text>
<path d="M436.70 442.30 C437.58 442.27 440.10 442.10 442.00 442.10 C443.90 442.10 445.88 442.15 448.10 442.30 C450.32 442.45 453.28 442.93 455.30 443.00 C457.32 443.07 458.38 442.85 460.20 442.70 C462.02 442.55 463.38 442.30 466.20 442.10 C469.02 441.90 473.67 441.55 477.10 441.50 C480.53 441.45 483.58 441.60 486.80 441.80 C490.02 442.00 493.58 442.25 496.40 442.70 C499.22 443.15 501.68 443.82 503.70 444.50 C505.72 445.18 506.92 446.02 508.50 446.80 C510.08 447.58 511.55 449.30 513.20 449.20 C514.85 449.10 517.02 447.38 518.40 446.20 C519.78 445.02 520.43 443.97 521.50 442.10 C522.57 440.23 523.82 437.90 524.80 435.00 C525.78 432.10 526.53 428.13 527.40 424.70 C528.27 421.27 529.13 417.67 530.00 414.40 C530.87 411.13 531.65 408.22 532.60 405.10 C533.55 401.98 534.67 398.13 535.70 395.70 C536.73 393.27 537.77 391.57 538.80 390.50 C539.83 389.43 540.85 389.30 541.90 389.30 C542.95 389.30 543.88 390.03 545.10 390.50 C546.32 390.97 547.83 392.00 549.20 392.10 C550.57 392.20 551.75 391.88 553.30 391.10 C554.85 390.32 556.77 388.87 558.50 387.40 C560.23 385.93 561.97 384.10 563.70 382.30 C565.43 380.50 566.95 378.58 568.90 376.60 C570.85 374.62 573.47 371.73 575.40 370.40 C577.33 369.07 578.78 368.95 580.50 368.60 C582.22 368.25 583.97 368.18 585.70 368.30 C587.43 368.42 589.17 368.70 590.90 369.30 C592.63 369.90 594.38 370.77 596.10 371.90 C597.82 373.03 599.48 374.55 601.20 376.10 C602.92 377.65 604.67 379.32 606.40 381.20 C608.13 383.08 609.87 385.23 611.60 387.40 C613.33 389.57 615.07 391.87 616.80 394.20 C618.53 396.53 620.28 398.98 622.00 401.40 C623.72 403.82 625.38 406.23 627.10 408.70 C628.82 411.17 631.15 414.52 632.30 416.20 C633.45 417.88 632.70 416.78 634.00 418.80 C635.30 420.82 638.08 425.35 640.10 428.30 C642.12 431.25 644.08 433.88 646.10 436.50 C648.12 439.12 650.18 441.62 652.20 444.00 C654.22 446.38 656.18 448.55 658.20 450.80 C660.22 453.05 662.28 455.40 664.30 457.50 C666.32 459.60 668.28 461.58 670.30 463.40 C672.32 465.22 674.38 466.77 676.40 468.40 C678.42 470.03 680.47 471.65 682.40 473.20 C684.33 474.75 685.73 476.07 688.00 477.70 C690.27 479.33 693.33 481.38 696.00 483.00 C698.67 484.62 701.32 486.00 704.00 487.40 C706.68 488.80 709.42 490.13 712.10 491.40 C714.78 492.67 717.43 493.85 720.10 495.00 C722.77 496.15 725.03 497.27 728.10 498.30 C731.17 499.33 736.77 500.72 738.50 501.20" fill="none" stroke="#222" stroke-width="1.45" stroke-linejoin="round" stroke-linecap="round"/>
<path d="M436.70 484.60 C437.58 484.78 440.10 485.33 442.00 485.70 C443.90 486.07 445.88 486.32 448.10 486.80 C450.32 487.28 453.28 488.20 455.30 488.60 C457.32 489.00 458.42 489.13 460.20 489.20 C461.98 489.27 463.98 489.03 466.00 489.00 C468.02 488.97 470.30 488.95 472.30 489.00 C474.30 489.05 476.00 489.17 478.00 489.30 C480.00 489.43 482.30 489.62 484.30 489.80 C486.30 489.98 487.98 490.13 490.00 490.40 C492.02 490.67 494.12 490.90 496.40 491.40 C498.68 491.90 501.68 492.65 503.70 493.40 C505.72 494.15 506.92 495.30 508.50 495.90 C510.08 496.50 511.55 497.33 513.20 497.00 C514.85 496.67 517.02 495.12 518.40 493.90 C519.78 492.68 520.47 491.43 521.50 489.70 C522.53 487.97 523.57 486.08 524.60 483.50 C525.63 480.92 526.50 477.30 527.70 474.20 C528.90 471.10 530.60 467.67 531.80 464.90 C533.00 462.13 533.87 460.37 534.90 457.60 C535.93 454.83 536.95 451.23 538.00 448.30 C539.05 445.37 540.28 442.28 541.20 440.00 C542.12 437.72 542.52 437.07 543.50 434.60 C544.48 432.13 545.88 428.05 547.10 425.20 C548.32 422.35 549.58 419.87 550.80 417.50 C552.02 415.13 553.12 413.25 554.40 411.00 C555.68 408.75 556.95 406.55 558.50 404.00 C560.05 401.45 561.97 398.28 563.70 395.70 C565.43 393.12 566.95 391.00 568.90 388.50 C570.85 386.00 573.47 382.48 575.40 380.70 C577.33 378.92 578.62 378.40 580.50 377.80 C582.38 377.20 584.80 377.05 586.70 377.10 C588.60 377.15 590.33 377.58 591.90 378.10 C593.47 378.62 594.55 379.25 596.10 380.20 C597.65 381.15 599.48 382.33 601.20 383.80 C602.92 385.27 604.67 387.10 606.40 389.00 C608.13 390.90 609.87 393.13 611.60 395.20 C613.33 397.27 615.07 399.33 616.80 401.40 C618.53 403.47 620.28 405.53 622.00 407.60 C623.72 409.67 625.55 411.93 627.10 413.80 C628.65 415.67 630.15 417.43 631.30 418.80 C632.45 420.17 632.53 419.97 634.00 422.00 C635.47 424.03 638.08 428.20 640.10 431.00 C642.12 433.80 644.08 436.30 646.10 438.80 C648.12 441.30 650.18 443.70 652.20 446.00 C654.22 448.30 656.18 450.40 658.20 452.60 C660.22 454.80 662.28 457.10 664.30 459.20 C666.32 461.30 668.28 463.38 670.30 465.20 C672.32 467.02 674.38 468.48 676.40 470.10 C678.42 471.72 680.47 473.35 682.40 474.90 C684.33 476.45 685.73 477.78 688.00 479.40 C690.27 481.02 693.33 483.00 696.00 484.60 C698.67 486.20 701.32 487.60 704.00 489.00 C706.68 490.40 709.42 491.73 712.10 493.00 C714.78 494.27 717.43 495.47 720.10 496.60 C722.77 497.73 725.03 498.78 728.10 499.80 C731.17 500.82 736.77 502.22 738.50 502.70" fill="none" stroke="#222" stroke-width="1.45" stroke-linejoin="round" stroke-linecap="round"/>
<path d="M436.70 483.20 C437.58 482.98 440.10 482.30 442.00 481.90 C443.90 481.50 446.10 481.12 448.10 480.80 C450.10 480.48 451.98 480.25 454.00 480.00 C456.02 479.75 458.20 479.50 460.20 479.30 C462.20 479.10 463.98 478.97 466.00 478.80 C468.02 478.63 470.30 478.43 472.30 478.30 C474.30 478.17 476.00 478.10 478.00 478.00 C480.00 477.90 482.30 477.80 484.30 477.70 C486.30 477.60 487.98 477.50 490.00 477.40 C492.02 477.30 494.40 477.15 496.40 477.10 C498.40 477.05 500.07 477.07 502.00 477.10 C503.93 477.13 506.33 477.22 508.00 477.30 C509.67 477.38 510.62 477.52 512.00 477.60 C513.38 477.68 515.13 477.78 516.30 477.80 C517.47 477.82 518.13 477.78 519.00 477.70 C519.87 477.62 520.73 477.50 521.50 477.30 C522.27 477.10 522.92 476.85 523.60 476.50 C524.28 476.15 524.75 475.93 525.60 475.20 C526.45 474.47 527.67 472.93 528.70 472.10 C529.73 471.27 530.75 470.63 531.80 470.20 C532.85 469.77 534.07 469.55 535.00 469.50 C535.93 469.45 536.68 469.60 537.40 469.90 C538.12 470.20 538.67 470.53 539.30 471.30 C539.93 472.07 540.55 473.15 541.20 474.50 C541.85 475.85 542.35 477.08 543.20 479.40 C544.05 481.72 545.08 485.15 546.30 488.40 C547.52 491.65 548.92 495.92 550.50 498.90 C552.08 501.88 554.05 504.37 555.80 506.30 C557.55 508.23 559.08 509.28 561.00 510.50 C562.92 511.72 565.02 512.63 567.30 513.60 C569.58 514.57 571.37 515.42 574.70 516.30 C578.03 517.18 582.57 518.07 587.30 518.90 C592.03 519.73 598.48 520.72 603.10 521.30 C607.72 521.88 610.25 522.00 615.00 522.40 C619.75 522.80 625.53 523.30 631.60 523.70 C637.67 524.10 644.23 524.47 651.40 524.80 C658.57 525.13 666.87 525.47 674.60 525.70 C682.33 525.93 690.73 526.08 697.80 526.20 C704.87 526.32 710.22 526.35 717.00 526.40 C723.78 526.45 734.92 526.48 738.50 526.50" fill="none" stroke="#222" stroke-width="1.45" stroke-linejoin="round" stroke-linecap="round"/>
<text x="504.7" y="361.90000000000003" font-size="15.6">ext.</text>
<line x1="530.5" y1="362.4" x2="561.9" y2="381.5" stroke="#333" stroke-width="0.9"/>
<text x="481.1" y="401.20000000000005" font-size="15.6">sca.</text>
<line x1="513.7" y1="401.7" x2="547.3" y2="424.1" stroke="#333" stroke-width="0.9"/>
<text x="581.8" y="478.1" font-size="15.6">abs.</text>
<line x1="577.5" y1="474.4" x2="547.9" y2="488.4" stroke="#333" stroke-width="0.9"/>
<circle cx="687.3" cy="347.2" r="24.1" fill="#9e9ea8" stroke="#333" stroke-width="1"/>
<line x1="663.2" y1="347.2" x2="663.2" y2="393" stroke="#666" stroke-width="1.0"/>
<line x1="711.4" y1="347.2" x2="711.4" y2="393" stroke="#666" stroke-width="1.0"/>
<line x1="668.3" y1="387.1" x2="706.3" y2="387.1" stroke="#111" stroke-width="1.2"/>
<path d="M663.8 387.1 L669.3 384.5 L669.3 389.70000000000005 Z" fill="#111"/>
<path d="M710.8 387.1 L705.3 384.5 L705.3 389.70000000000005 Z" fill="#111"/>
<text x="669.4" y="403.9" font-size="12">150 nm</text>
</svg>
</body></html>
